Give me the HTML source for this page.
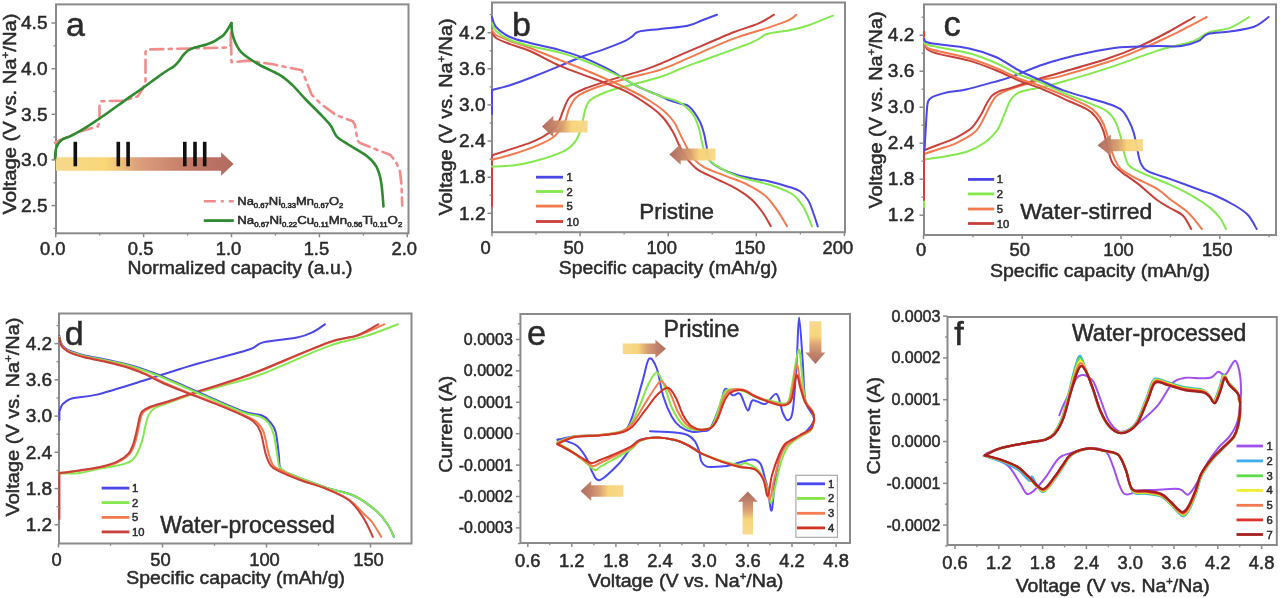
<!DOCTYPE html><html><head><meta charset="utf-8"><style>html,body{margin:0;padding:0;background:#fff;overflow:hidden}svg{display:block;filter:blur(0.7px)}text{font-family:"Liberation Sans", sans-serif;stroke:#2a2a2a;stroke-width:0.5px;paint-order:stroke}</style></head><body>
<svg width="1280" height="598" viewBox="0 0 1280 598">
<rect width="1280" height="598" fill="#fff"/>
<rect x="56" y="4.4" width="352.5" height="228.9" fill="none" stroke="#8a8a8a" stroke-width="2.0"/>
<linearGradient id="g1" gradientUnits="userSpaceOnUse" x1="56" y1="0" x2="233.6" y2="0"><stop offset="0" stop-color="#f6d98e"/><stop offset="0.28" stop-color="#f9d776"/><stop offset="0.36" stop-color="#eec27a"/><stop offset="0.46" stop-color="#dca07c"/><stop offset="0.75" stop-color="#c47a68"/><stop offset="1" stop-color="#b06a5e"/></linearGradient>
<path d="M56,157.2 L221.1,157.2 L221.1,152.3 L233.6,164 L221.1,175.7 L221.1,170.8 L56,170.8Z" fill="url(#g1)" fill-opacity="1"/>
<rect x="73.5" y="141.8" width="3.6" height="24.5" fill="#111"/>
<rect x="116.5" y="141.8" width="3.6" height="24.5" fill="#111"/>
<rect x="126.3" y="141.8" width="3.6" height="24.5" fill="#111"/>
<rect x="183" y="141.8" width="3.6" height="24.5" fill="#111"/>
<rect x="193.2" y="141.8" width="3.6" height="24.5" fill="#111"/>
<rect x="202.9" y="141.8" width="3.6" height="24.5" fill="#111"/>
<path d="M55,142.7 L60,140.2 L80.1,131.4 L97.7,126.4 L99.5,123 L99.5,102.6 L101,101.3 L124,100.7 L137.8,96.3 L142.8,88.8 L145.5,81 L145.5,52 L147,49.5 L228.5,47.5 L230.6,45 L231,30 L231.5,62.3 L248.5,60.6 L272.8,64.3 L301.9,70.3 L305,78 L311.6,94.6 L321.3,104.3 L336,115 L352.8,121.3 L355,125 L357.6,140.7 L360,143 L369.4,146.8 L390.5,155 L396,162 L399.8,170.2 L401.5,185 L402.2,205.4" fill="none" stroke="#f08c8c" stroke-width="2.6" stroke-linejoin="round" stroke-linecap="round" stroke-dasharray="13 5.5 3 5.5"/>
<path d="M55,159 C55.2,157.1 55.2,150.8 56.3,147.7 C57.3,144.6 58.6,142.3 61.3,140.2 C64,138.1 68.2,137.5 72.6,135.2 C77,132.9 82,130 87.6,126.4 C93.2,122.8 100.1,118.2 106.4,113.8 C112.7,109.4 120.1,103.8 125.3,100.1 C130.5,96.4 133.6,94.4 137.8,91.5 C142,88.6 146.7,85.1 150.3,82.5 C153.9,79.9 156.6,77.9 159.5,75.8 C162.4,73.7 165.5,71.6 168,70 C170.5,68.4 172.6,67.5 174.4,66 C176.2,64.5 177.6,62.8 179,61 C180.4,59.2 181.5,57.2 183,55.5 C184.5,53.8 186.1,51.8 188,50.5 C189.9,49.2 191.6,48.5 194.7,47.5 C197.8,46.5 203.2,45.4 206.4,44.4 C209.6,43.4 212.1,42.4 214,41.5 C215.9,40.6 216.5,40 218.1,38.9 C219.7,37.8 221.9,36.6 223.6,35 C225.2,33.4 226.7,31 228,29 C229.3,27 230.9,24 231.5,23" fill="none" stroke="#2f8a30" stroke-width="2.6" stroke-linejoin="round" stroke-linecap="round" />
<path d="M231.5,23 C231.6,24.2 231.5,27.5 231.8,30 C232.1,32.5 232.6,35.3 233.5,38 C234.4,40.7 235.7,43.6 237,46 C238.3,48.4 239,49.9 241.2,52.1 C243.4,54.3 246.8,56.8 250,59 C253.2,61.2 255.6,62.8 260.6,65.5 C265.6,68.2 274.7,72 280,75.2 C285.3,78.4 287.8,80.8 292.2,84.9 C296.6,89 301.5,95.2 306.2,100 C310.9,104.8 316.1,109.7 320.2,114 C324.3,118.3 328.1,122.1 330.8,125.8 C333.5,129.5 333.7,133.2 336.6,136.3 C339.5,139.4 343.2,141.2 348.3,144.5 C353.4,147.8 362.4,152.5 367.1,156.2 C371.8,159.9 374.1,162.4 376.4,166.7 C378.7,171 379.9,175.3 381.1,181.9 C382.3,188.5 383.1,202.4 383.5,206.5" fill="none" stroke="#2f8a30" stroke-width="2.6" stroke-linejoin="round" stroke-linecap="round" />
<line x1="51.5" y1="205.6" x2="56" y2="205.6" stroke="#8a8a8a" stroke-width="1.5"/>
<line x1="51.5" y1="159.9" x2="56" y2="159.9" stroke="#8a8a8a" stroke-width="1.5"/>
<line x1="51.5" y1="114.3" x2="56" y2="114.3" stroke="#8a8a8a" stroke-width="1.5"/>
<line x1="51.5" y1="68.7" x2="56" y2="68.7" stroke="#8a8a8a" stroke-width="1.5"/>
<line x1="51.5" y1="23" x2="56" y2="23" stroke="#8a8a8a" stroke-width="1.5"/>
<line x1="53.5" y1="228.4" x2="56" y2="228.4" stroke="#8a8a8a" stroke-width="1.3"/>
<line x1="53.5" y1="182.8" x2="56" y2="182.8" stroke="#8a8a8a" stroke-width="1.3"/>
<line x1="53.5" y1="137.1" x2="56" y2="137.1" stroke="#8a8a8a" stroke-width="1.3"/>
<line x1="53.5" y1="91.5" x2="56" y2="91.5" stroke="#8a8a8a" stroke-width="1.3"/>
<line x1="53.5" y1="45.8" x2="56" y2="45.8" stroke="#8a8a8a" stroke-width="1.3"/>
<line x1="55.7" y1="233.3" x2="55.7" y2="237.3" stroke="#8a8a8a" stroke-width="1.5"/>
<line x1="143.6" y1="233.3" x2="143.6" y2="237.3" stroke="#8a8a8a" stroke-width="1.5"/>
<line x1="231.5" y1="233.3" x2="231.5" y2="237.3" stroke="#8a8a8a" stroke-width="1.5"/>
<line x1="319.4" y1="233.3" x2="319.4" y2="237.3" stroke="#8a8a8a" stroke-width="1.5"/>
<line x1="407.3" y1="233.3" x2="407.3" y2="237.3" stroke="#8a8a8a" stroke-width="1.5"/>
<line x1="99.7" y1="233.3" x2="99.7" y2="235.6" stroke="#8a8a8a" stroke-width="1.3"/>
<line x1="187.6" y1="233.3" x2="187.6" y2="235.6" stroke="#8a8a8a" stroke-width="1.3"/>
<line x1="275.4" y1="233.3" x2="275.4" y2="235.6" stroke="#8a8a8a" stroke-width="1.3"/>
<line x1="363.4" y1="233.3" x2="363.4" y2="235.6" stroke="#8a8a8a" stroke-width="1.3"/>
<text x="47.5" y="211.8" font-size="18" text-anchor="end" fill="#2a2a2a" textLength="26.5" lengthAdjust="spacingAndGlyphs" >2.5</text>
<text x="47.5" y="166.1" font-size="18" text-anchor="end" fill="#2a2a2a" textLength="26.5" lengthAdjust="spacingAndGlyphs" >3.0</text>
<text x="47.5" y="120.5" font-size="18" text-anchor="end" fill="#2a2a2a" textLength="26.5" lengthAdjust="spacingAndGlyphs" >3.5</text>
<text x="47.5" y="74.9" font-size="18" text-anchor="end" fill="#2a2a2a" textLength="26.5" lengthAdjust="spacingAndGlyphs" >4.0</text>
<text x="47.5" y="29.2" font-size="18" text-anchor="end" fill="#2a2a2a" textLength="26.5" lengthAdjust="spacingAndGlyphs" >4.5</text>
<text x="52.7" y="254.7" font-size="18" text-anchor="middle" fill="#2a2a2a" textLength="25.5" lengthAdjust="spacingAndGlyphs" >0.0</text>
<text x="140.6" y="254.7" font-size="18" text-anchor="middle" fill="#2a2a2a" textLength="25.5" lengthAdjust="spacingAndGlyphs" >0.5</text>
<text x="228.5" y="254.7" font-size="18" text-anchor="middle" fill="#2a2a2a" textLength="25.5" lengthAdjust="spacingAndGlyphs" >1.0</text>
<text x="316.4" y="254.7" font-size="18" text-anchor="middle" fill="#2a2a2a" textLength="25.5" lengthAdjust="spacingAndGlyphs" >1.5</text>
<text x="404.3" y="254.7" font-size="18" text-anchor="middle" fill="#2a2a2a" textLength="25.5" lengthAdjust="spacingAndGlyphs" >2.0</text>
<text x="127.5" y="273.5" font-size="19.2" text-anchor="start" fill="#2a2a2a" textLength="225" lengthAdjust="spacingAndGlyphs" >Normalized capacity (a.u.)</text>
<text x="16" y="114" font-size="19.2" text-anchor="middle" fill="#2a2a2a" textLength="201" lengthAdjust="spacingAndGlyphs" transform="rotate(-90 16 114)">Voltage (V vs. Na<tspan font-size="11" dy="-7">+</tspan><tspan dy="7">/Na)</tspan></text>
<text x="66" y="35.6" font-size="34" text-anchor="start" fill="#2a2a2a" >a</text>
<line x1="203.8" y1="201.3" x2="233.8" y2="201.3" stroke="#f08c8c" stroke-width="2.6" stroke-dasharray="12 5 3 5"/>
<line x1="203.8" y1="220.6" x2="233.8" y2="220.6" stroke="#2f8a30" stroke-width="2.8"/>
<text x="237.3" y="204.8" font-size="11" text-anchor="start" fill="#2a2a2a" textLength="106" lengthAdjust="spacingAndGlyphs" >Na<tspan font-size="6.5" dy="3">0.67</tspan><tspan dy="-3">Ni</tspan><tspan font-size="6.5" dy="3">0.33</tspan><tspan dy="-3">Mn</tspan><tspan font-size="6.5" dy="3">0.67</tspan><tspan dy="-3">O</tspan><tspan font-size="6.5" dy="3">2</tspan><tspan dy="-3"></tspan></text>
<text x="237.3" y="224.2" font-size="11" text-anchor="start" fill="#2a2a2a" textLength="165" lengthAdjust="spacingAndGlyphs" >Na<tspan font-size="6.5" dy="3">0.67</tspan><tspan dy="-3">Ni</tspan><tspan font-size="6.5" dy="3">0.22</tspan><tspan dy="-3">Cu</tspan><tspan font-size="6.5" dy="3">0.11</tspan><tspan dy="-3">Mn</tspan><tspan font-size="6.5" dy="3">0.56</tspan><tspan dy="-3">Ti</tspan><tspan font-size="6.5" dy="3">0.11</tspan><tspan dy="-3">O</tspan><tspan font-size="6.5" dy="3">2</tspan><tspan dy="-3"></tspan></text>
<rect x="492" y="2.5" width="353" height="229.7" fill="none" stroke="#8a8a8a" stroke-width="2.0"/>
<path d="M492,206 L492,155.3 C495.4,154.2 505.4,151 512.6,148.6 C519.8,146.2 528.4,143.9 535.2,140.7 C542,137.5 549.1,133 553.2,129.4 C557.3,125.8 558.4,122.1 560,119 C561.6,115.9 561.3,114.7 563,111 C564.7,107.3 566.3,100.7 570,96.9 C573.7,93.2 578.4,91.3 585.1,88.5 C591.8,85.7 600.4,83.2 610.1,80.1 C619.9,77 635.3,72.8 643.6,70.1 C651.9,67.4 653.9,66.5 660,64 C666.1,61.5 673.9,57.8 680,55.1 C686.1,52.4 687.9,51.6 696.8,47.8 C705.7,44 723.5,36.2 733.6,32.2 C743.7,28.2 750.8,26.8 757.5,23.9 C764.2,21 771.2,16.2 774,14.7" fill="none" stroke="#c9403a" stroke-width="2.0" stroke-linejoin="round" stroke-linecap="round" />
<path d="M492,159.8 C495.4,158.9 505.4,156.4 512.6,154.2 C519.8,151.9 528.4,149.1 535.2,146.3 C542,143.5 548.3,141.2 553.2,137.3 C558.1,133.4 561.9,127.3 564.5,122.6 C567.1,117.9 567,113.3 569,109 C571,104.7 572.6,100.3 576.7,96.9 C580.8,93.5 585,91.6 593.4,88.5 C601.8,85.4 615.8,81.6 626.9,78.5 C638,75.4 651.1,72.7 660,69.9 C668.9,67.1 673.9,64.4 680,61.8 C686.1,59.2 687.9,58.2 696.8,54.3 C705.7,50.4 721.6,43 733.6,38.6 C745.6,34.2 759.4,30.7 768.6,27.6 C777.8,24.5 784.2,22.4 788.8,20.2 C793.4,18 795,15.6 796.2,14.7" fill="none" stroke="#f27a4e" stroke-width="2.0" stroke-linejoin="round" stroke-linecap="round" />
<path d="M492,166.6 C495.4,166.4 505.4,166.4 512.6,165.5 C519.8,164.6 526.6,163.4 535.2,161 C543.9,158.6 557.7,154.2 564.5,150.8 C571.3,147.4 573,144.7 575.8,140.7 C578.6,136.7 580,131.9 581.5,127 C583,122.1 583.4,115.8 584.8,111.3 C586.2,106.8 586.4,103.5 590.1,100.2 C593.8,97 600.7,94.2 606.8,91.8 C612.9,89.4 618,88.5 626.9,86 C635.8,83.5 651.1,79.8 660,77 C668.9,74.2 673.9,71.4 680,69 C686.1,66.6 684.8,67 696.8,62.6 C708.8,58.1 740.4,47.1 752,42.3 C763.6,37.5 760.6,36 766.7,34 C772.8,32 782,31.8 788.8,30.4 C795.5,29 799.8,28.3 807.2,25.8 C814.6,23.3 828.7,17.3 833,15.6" fill="none" stroke="#84e84e" stroke-width="2.0" stroke-linejoin="round" stroke-linecap="round" />
<path d="M492,114 L492,90 C493.3,89.7 497,88.8 500,88 C503,87.2 505,87 510,85.3 C515,83.6 521.7,81.2 530,78 C538.3,74.8 551.4,69.5 560,65.9 C568.6,62.4 574.7,59.3 581.7,56.7 C588.7,54.1 594.8,52.6 601.8,50.1 C608.8,47.6 618.5,43.9 623.5,41.7 C628.5,39.5 629.4,38.4 631.9,36.7 C634.4,35 633.9,33 638.6,31.7 C643.3,30.4 652.1,30 660.3,29 C668.5,28 680.6,27.3 687.6,25.8 C694.6,24.3 697.4,22.1 702.3,20.2 C707.2,18.3 714.5,15.6 717,14.7" fill="none" stroke="#4b46e6" stroke-width="2.0" stroke-linejoin="round" stroke-linecap="round" />
<path d="M492,32 C492.7,33 493,36 496,38 C499,40 504.3,41.9 510,44.1 C515.7,46.3 521.7,47.4 530,51 C538.3,54.6 549.4,61.3 560,65.9 C570.6,70.5 582.2,74.2 593.4,78.5 C604.5,82.8 617.3,87 626.9,91.8 C636.5,96.5 645,102.7 651,107 C657,111.3 659.3,113.3 663,117.5 C666.7,121.7 670.1,127 673,132 C675.9,137.1 678.1,143.4 680.4,147.8 C682.7,152.2 684.1,155.1 687,158.7 C689.9,162.3 693.1,166.3 697.8,169.6 C702.5,172.9 708.7,175.1 715.2,178.3 C721.7,181.6 730.8,185.5 737,189.1 C743.2,192.7 747.9,196 752.2,200 C756.5,204 759.9,208.7 763,213 C766.1,217.3 769.4,223.9 770.7,226.1" fill="none" stroke="#c9403a" stroke-width="2.0" stroke-linejoin="round" stroke-linecap="round" />
<path d="M492,30 C492.7,30.8 493,33.2 496,35 C499,36.8 504.3,38.8 510,41 C515.7,43.2 521.7,44.8 530,48 C538.3,51.2 549.4,55.9 560,60.1 C570.6,64.3 582.2,68.8 593.4,73.5 C604.5,78.2 617.5,83.9 626.9,88.5 C636.3,93.1 643.8,97.2 650,101 C656.2,104.8 660,107.5 664,111 C668,114.5 671.6,118.8 674,122 C676.4,125.2 676.1,126.1 678.3,130.4 C680.5,134.7 684.5,143.1 687,147.8 C689.5,152.5 690.6,155.4 693.5,158.7 C696.4,162 698.9,164.5 704.3,167.4 C709.7,170.3 718.9,173.2 726.1,176.1 C733.4,179 741.3,181.5 747.8,184.8 C754.3,188.1 760.5,191.7 765.2,195.7 C769.9,199.7 772.5,203.6 776.1,208.7 C779.7,213.8 785.2,223.2 787,226.1" fill="none" stroke="#f27a4e" stroke-width="2.0" stroke-linejoin="round" stroke-linecap="round" />
<path d="M492,17 C492.7,18.7 493,23.7 496,27 C499,30.3 504.3,34.3 510,37 C515.7,39.7 521.7,40.8 530,43 C538.3,45.2 550.8,47.5 560,50.1 C569.2,52.7 576.8,55.1 585.1,58.4 C593.5,61.7 603.7,66.8 610.1,70.1 C616.5,73.4 618.5,75.6 623.5,78.5 C628.5,81.4 634.1,84.8 640.2,87.7 C646.3,90.6 655.8,94 660.3,96 C664.8,98 664.1,98.2 667.4,99.5 C670.7,100.8 676.4,102.3 680,103.5 C683.6,104.7 685.8,103.5 689.1,106.5 C692.4,109.5 697.5,117 700,121.7 C702.5,126.4 703.2,130.8 704.3,134.8 C705.4,138.8 705.4,141.2 706.5,145.7 C707.6,150.2 705.8,157.1 710.9,162 C716,166.9 727.2,171.8 737,175 C746.8,178.2 760.9,179.5 769.6,181.5 C778.3,183.5 784,185.4 789.1,187 C794.2,188.6 796.9,189.1 800,191.3 C803.1,193.5 805.8,196.6 808,200 C810.2,203.4 811.4,207.6 813,212 C814.6,216.4 817,224 817.8,226.4" fill="none" stroke="#4b46e6" stroke-width="2.0" stroke-linejoin="round" stroke-linecap="round" />
<path d="M492,23 C492.7,24.3 493,28.2 496,31 C499,33.8 504.3,37.5 510,40 C515.7,42.5 521.7,43.9 530,46 C538.3,48.1 550.8,50.1 560,52.6 C569.2,55.1 576.6,57.8 585,61 C593.4,64.2 603.7,68.9 610.1,71.8 C616.5,74.7 618.5,75.8 623.5,78.5 C628.5,81.2 634.1,84.8 640.2,87.7 C646.3,90.6 654.5,93.9 660.3,96 C666.1,98.1 671.3,99.1 675,100.5 C678.7,101.9 679.5,101.8 682.6,104.3 C685.7,106.8 690.8,111.2 693.5,115.2 C696.2,119.2 697.4,123.6 698.9,128.3 C700.4,133 700.9,138.8 702.2,143.5 C703.5,148.2 704.3,152.9 706.5,156.5 C708.7,160.1 710.1,161.9 715.2,165.2 C720.3,168.5 727.9,172.8 737,176.1 C746.1,179.4 760.6,181.9 769.6,184.8 C778.6,187.7 786.2,190.6 791.3,193.5 C796.4,196.4 797.5,199.1 800,202.2 C802.5,205.3 804,208 806,212 C808,216 811,224 812,226.4" fill="none" stroke="#84e84e" stroke-width="2.0" stroke-linejoin="round" stroke-linecap="round" />
<linearGradient id="g2" gradientUnits="userSpaceOnUse" x1="587.6" y1="0" x2="542" y2="0"><stop offset="0" stop-color="#f7d888"/><stop offset="0.35" stop-color="#f8d274"/><stop offset="0.55" stop-color="#d89e6c"/><stop offset="0.8" stop-color="#bb7862"/><stop offset="1" stop-color="#a86656"/></linearGradient>
<path d="M587.6,120.5 L553.4,120.5 L553.4,115.7 L542,126.5 L553.4,137.3 L553.4,132.5 L587.6,132.5Z" fill="url(#g2)" fill-opacity="0.95"/>
<linearGradient id="g3" gradientUnits="userSpaceOnUse" x1="715.5" y1="0" x2="669.4" y2="0"><stop offset="0" stop-color="#f7d888"/><stop offset="0.35" stop-color="#f8d274"/><stop offset="0.55" stop-color="#d89e6c"/><stop offset="0.8" stop-color="#bb7862"/><stop offset="1" stop-color="#a86656"/></linearGradient>
<path d="M715.5,148.4 L680.7,148.4 L680.7,144 L669.4,154.4 L680.7,164.8 L680.7,160.4 L715.5,160.4Z" fill="url(#g3)" fill-opacity="0.95"/>
<line x1="487.5" y1="213.3" x2="492" y2="213.3" stroke="#8a8a8a" stroke-width="1.5"/>
<line x1="487.5" y1="177.2" x2="492" y2="177.2" stroke="#8a8a8a" stroke-width="1.5"/>
<line x1="487.5" y1="141.1" x2="492" y2="141.1" stroke="#8a8a8a" stroke-width="1.5"/>
<line x1="487.5" y1="104.9" x2="492" y2="104.9" stroke="#8a8a8a" stroke-width="1.5"/>
<line x1="487.5" y1="68.8" x2="492" y2="68.8" stroke="#8a8a8a" stroke-width="1.5"/>
<line x1="487.5" y1="32.7" x2="492" y2="32.7" stroke="#8a8a8a" stroke-width="1.5"/>
<line x1="489.5" y1="195.2" x2="492" y2="195.2" stroke="#8a8a8a" stroke-width="1.3"/>
<line x1="489.5" y1="159.1" x2="492" y2="159.1" stroke="#8a8a8a" stroke-width="1.3"/>
<line x1="489.5" y1="123" x2="492" y2="123" stroke="#8a8a8a" stroke-width="1.3"/>
<line x1="489.5" y1="86.9" x2="492" y2="86.9" stroke="#8a8a8a" stroke-width="1.3"/>
<line x1="489.5" y1="50.8" x2="492" y2="50.8" stroke="#8a8a8a" stroke-width="1.3"/>
<line x1="489.5" y1="14.6" x2="492" y2="14.6" stroke="#8a8a8a" stroke-width="1.3"/>
<line x1="492" y1="232.2" x2="492" y2="236.2" stroke="#8a8a8a" stroke-width="1.5"/>
<line x1="580.1" y1="232.2" x2="580.1" y2="236.2" stroke="#8a8a8a" stroke-width="1.5"/>
<line x1="668.2" y1="232.2" x2="668.2" y2="236.2" stroke="#8a8a8a" stroke-width="1.5"/>
<line x1="756.3" y1="232.2" x2="756.3" y2="236.2" stroke="#8a8a8a" stroke-width="1.5"/>
<line x1="844.4" y1="232.2" x2="844.4" y2="236.2" stroke="#8a8a8a" stroke-width="1.5"/>
<line x1="536" y1="232.2" x2="536" y2="234.5" stroke="#8a8a8a" stroke-width="1.3"/>
<line x1="624.1" y1="232.2" x2="624.1" y2="234.5" stroke="#8a8a8a" stroke-width="1.3"/>
<line x1="712.2" y1="232.2" x2="712.2" y2="234.5" stroke="#8a8a8a" stroke-width="1.3"/>
<line x1="800.4" y1="232.2" x2="800.4" y2="234.5" stroke="#8a8a8a" stroke-width="1.3"/>
<text x="485.5" y="219.5" font-size="18" text-anchor="end" fill="#2a2a2a" textLength="26.5" lengthAdjust="spacingAndGlyphs" >1.2</text>
<text x="485.5" y="183.4" font-size="18" text-anchor="end" fill="#2a2a2a" textLength="26.5" lengthAdjust="spacingAndGlyphs" >1.8</text>
<text x="485.5" y="147.3" font-size="18" text-anchor="end" fill="#2a2a2a" textLength="26.5" lengthAdjust="spacingAndGlyphs" >2.4</text>
<text x="485.5" y="111.1" font-size="18" text-anchor="end" fill="#2a2a2a" textLength="26.5" lengthAdjust="spacingAndGlyphs" >3.0</text>
<text x="485.5" y="75" font-size="18" text-anchor="end" fill="#2a2a2a" textLength="26.5" lengthAdjust="spacingAndGlyphs" >3.6</text>
<text x="485.5" y="38.9" font-size="18" text-anchor="end" fill="#2a2a2a" textLength="26.5" lengthAdjust="spacingAndGlyphs" >4.2</text>
<text x="485.5" y="254.3" font-size="18" text-anchor="middle" fill="#2a2a2a" textLength="10.2" lengthAdjust="spacingAndGlyphs" >0</text>
<text x="573.6" y="254.3" font-size="18" text-anchor="middle" fill="#2a2a2a" textLength="20.4" lengthAdjust="spacingAndGlyphs" >50</text>
<text x="661.7" y="254.3" font-size="18" text-anchor="middle" fill="#2a2a2a" textLength="30.6" lengthAdjust="spacingAndGlyphs" >100</text>
<text x="749.8" y="254.3" font-size="18" text-anchor="middle" fill="#2a2a2a" textLength="30.6" lengthAdjust="spacingAndGlyphs" >150</text>
<text x="837.9" y="254.3" font-size="18" text-anchor="middle" fill="#2a2a2a" textLength="30.6" lengthAdjust="spacingAndGlyphs" >200</text>
<text x="558.8" y="273.5" font-size="19.2" text-anchor="start" fill="#2a2a2a" textLength="218.7" lengthAdjust="spacingAndGlyphs" >Specific capacity (mAh/g)</text>
<text x="452" y="117" font-size="19.2" text-anchor="middle" fill="#2a2a2a" textLength="197" lengthAdjust="spacingAndGlyphs" transform="rotate(-90 452 117)">Voltage (V vs. Na<tspan font-size="11" dy="-7">+</tspan><tspan dy="7">/Na)</tspan></text>
<text x="511.9" y="35.5" font-size="34" text-anchor="start" fill="#2a2a2a" >b</text>
<text x="639.3" y="218.9" font-size="22.5" text-anchor="start" fill="#2a2a2a" textLength="74.8" lengthAdjust="spacingAndGlyphs" >Pristine</text>
<line x1="536" y1="177.2" x2="563" y2="177.2" stroke="#4b46e6" stroke-width="2.8"/>
<text x="566.5" y="181.2" font-size="11.2" text-anchor="start" fill="#2a2a2a" >1</text>
<line x1="536" y1="191.5" x2="563" y2="191.5" stroke="#84e84e" stroke-width="2.8"/>
<text x="566.5" y="195.5" font-size="11.2" text-anchor="start" fill="#2a2a2a" >2</text>
<line x1="536" y1="206.1" x2="563" y2="206.1" stroke="#f27a4e" stroke-width="2.8"/>
<text x="566.5" y="210.1" font-size="11.2" text-anchor="start" fill="#2a2a2a" >5</text>
<line x1="536" y1="221.5" x2="563" y2="221.5" stroke="#c9403a" stroke-width="2.8"/>
<text x="566.5" y="225.5" font-size="11.2" text-anchor="start" fill="#2a2a2a" >10</text>
<rect x="924" y="4.4" width="352" height="230.6" fill="none" stroke="#8a8a8a" stroke-width="2.0"/>
<path d="M924,207 L924,159.4 C926.4,159.1 931.4,158.8 938.4,157.6 C945.4,156.4 958.3,154.5 966,152 C973.7,149.5 979.2,146.5 984.4,142.8 C989.6,139.1 993.9,134.9 997.3,130 C1000.7,125.1 1002.6,118.3 1004.7,113.4 C1006.9,108.5 1008.1,103.9 1010.2,100.5 C1012.4,97.1 1014.2,94.9 1017.6,93.1 C1021,91.2 1026.7,90.3 1030.4,89.4 C1034.1,88.5 1035.1,88.8 1040,87.6 C1044.9,86.4 1048.6,85.8 1060,82.5 C1071.4,79.2 1092.3,73.2 1108.5,67.9 C1124.7,62.6 1142.8,55.4 1157,50.9 C1171.2,46.4 1184.9,44.2 1193.4,41.2 C1201.9,38.2 1201.9,34.9 1208,32.7 C1214.1,30.5 1222.9,30.5 1229.8,27.9 C1236.7,25.3 1246,18.8 1249.2,17" fill="none" stroke="#84e84e" stroke-width="2.0" stroke-linejoin="round" stroke-linecap="round" />
<path d="M924,153.9 C926.4,153.1 932.9,151.2 938.4,149.3 C943.9,147.5 950.7,145.7 956.8,142.8 C962.9,139.9 970.6,136.1 975.2,131.8 C979.8,127.5 982,121.4 984.4,117.1 C986.8,112.8 988,109.4 989.9,106 C991.8,102.6 993.4,99.1 995.5,96.8 C997.6,94.5 1000,93.6 1002.8,92.2 C1005.5,90.8 1005.8,90.5 1012,88.5 C1018.2,86.5 1032,82.2 1040,80.2 C1048,78.2 1048.6,79.5 1060,76.4 C1071.4,73.3 1095.2,66.2 1108.5,61.8 C1121.8,57.3 1129.9,53.9 1140,49.7 C1150.1,45.5 1161,40.2 1169.1,36.4 C1177.2,32.6 1182.2,29.9 1188.5,26.7 C1194.8,23.5 1203.7,18.6 1206.7,17" fill="none" stroke="#f27a4e" stroke-width="2.0" stroke-linejoin="round" stroke-linecap="round" />
<path d="M924,200 L924,150.2 C926.4,149.3 932.9,146.8 938.4,144.7 C943.9,142.5 951.3,140.1 956.8,137.3 C962.3,134.5 967.5,131.8 971.5,128.1 C975.5,124.4 978.2,119.2 980.7,115.2 C983.2,111.2 984.4,107.4 986.3,104.2 C988.1,101 989.7,98.1 991.8,95.9 C993.9,93.8 995.7,92.7 999.1,91.3 C1002.5,89.9 1005.2,89.8 1012,87.6 C1018.8,85.4 1032,80.9 1040,78.4 C1048,75.9 1048.6,76.2 1060,72.8 C1071.4,69.4 1095.2,62.7 1108.5,58.2 C1121.8,53.8 1129.9,50.6 1140,46.1 C1150.1,41.6 1160,36.4 1169.1,31.5 C1178.2,26.6 1190.3,19.4 1194.6,17" fill="none" stroke="#c9403a" stroke-width="2.0" stroke-linejoin="round" stroke-linecap="round" />
<path d="M924.5,150.2 C924.8,145.9 925.5,132.1 926,124.4 C926.5,116.7 926.8,108.3 927.5,104 C928.2,99.7 928.8,100 930,98.7 C931.2,97.4 932.1,97 935,95.9 C937.9,94.8 942.4,93.3 947.6,92.2 C952.8,91.1 958.3,91.1 966,89.4 C973.7,87.7 985.9,84.2 993.6,82.1 C1001.3,80 1004.3,79.4 1012,76.6 C1019.7,73.8 1032,68.4 1040,65.5 C1048,62.6 1052.6,61.4 1060,59.4 C1067.4,57.4 1074.2,55.4 1084.3,53.4 C1094.4,51.4 1108.5,48.5 1120.6,47.3 C1132.7,46.1 1146.9,46.3 1157,46.1 C1167.1,45.9 1174.4,46.9 1181.3,46.1 C1188.2,45.3 1193.8,43.2 1198.2,41.2 C1202.7,39.2 1202.7,35.6 1208,34 C1213.3,32.4 1222.1,32.7 1229.8,31.5 C1237.5,30.3 1247.5,29.1 1254,26.7 C1260.5,24.3 1266.2,18.6 1268.6,17" fill="none" stroke="#4b46e6" stroke-width="2.0" stroke-linejoin="round" stroke-linecap="round" />
<path d="M924.3,32 C924.3,34 923.1,40.6 924.5,44 C925.9,47.4 925.3,49.3 932.7,52.1 C940.1,54.9 958.6,57.6 969.1,60.6 C979.6,63.6 987.3,66.9 995.8,70.3 C1004.3,73.7 1012.6,78 1020,81 C1027.4,84 1032.8,85.2 1040,88.1 C1047.2,91 1055.6,95.1 1063.4,98.6 C1071.2,102.1 1081.3,106.1 1086.8,109.2 C1092.3,112.3 1093.5,113.9 1096.2,117.4 C1098.9,120.9 1101.2,125 1103.2,130.3 C1105.2,135.6 1106.3,143.6 1107.9,149 C1109.5,154.4 1110.2,159.1 1112.6,163 C1114.9,166.9 1117.7,168.9 1122,172.4 C1126.3,175.9 1132.6,179.5 1138.4,184.1 C1144.2,188.7 1151.8,196 1157.1,200 C1162.4,204 1165.7,205.4 1170,208 C1174.3,210.6 1179.6,212.2 1183.1,215.7 C1186.6,219.2 1189.8,226.8 1191.2,229" fill="none" stroke="#c9403a" stroke-width="2.0" stroke-linejoin="round" stroke-linecap="round" />
<path d="M924.3,38 C924.4,39.2 923.6,43 925,45 C926.4,47 925.4,47.5 932.7,49.7 C940.1,51.9 958.6,55.2 969.1,58.2 C979.6,61.2 987.3,64.4 995.8,67.9 C1004.3,71.4 1012.6,76 1020,79 C1027.4,82 1032.8,83.1 1040,85.8 C1047.2,88.5 1055.6,91.8 1063.4,95.1 C1071.2,98.4 1081.3,102.8 1086.8,105.7 C1092.3,108.6 1093.5,109.8 1096.2,112.7 C1098.9,115.6 1101.2,119.1 1103.2,123.2 C1105.2,127.3 1106.3,132.2 1107.9,137.3 C1109.5,142.4 1110.6,148.6 1112.6,153.7 C1114.5,158.8 1116.1,163.8 1119.6,167.7 C1123.1,171.6 1127.5,173.6 1133.7,177.1 C1140,180.6 1150.9,185 1157.1,188.8 C1163.3,192.6 1165.9,196 1171.1,200 C1176.3,204 1183.4,208.2 1188.5,213 C1193.6,217.8 1199.7,226.3 1201.9,229" fill="none" stroke="#f27a4e" stroke-width="2.0" stroke-linejoin="round" stroke-linecap="round" />
<path d="M924.3,40 C924.4,40.6 923.6,42.6 925,43.6 C926.4,44.6 925.4,44.5 932.7,46.1 C940.1,47.7 958.6,50.5 969.1,53.3 C979.6,56.1 987.3,59.4 995.8,63 C1004.3,66.6 1012.6,71.8 1020,75 C1027.4,78.2 1032.8,79.2 1040,82.2 C1047.2,85.2 1055.6,89.5 1063.4,92.8 C1071.2,96.1 1079.8,99.3 1086.8,102.2 C1093.8,105.1 1100.9,107.3 1105.6,110.4 C1110.3,113.5 1112.5,116.4 1115,120.9 C1117.5,125.4 1119.2,131.8 1120.8,137.3 C1122.3,142.8 1122.9,149 1124.3,153.7 C1125.7,158.4 1126.3,162.3 1129,165.4 C1131.7,168.5 1134.1,169.3 1140.7,172.4 C1147.3,175.5 1160.2,180.2 1168.8,184.1 C1177.4,188 1185.3,191.9 1192.2,195.8 C1199.1,199.7 1205.3,203.9 1209.9,207.6 C1214.5,211.3 1217.3,214.4 1220,218 C1222.7,221.6 1225,227.2 1226,229" fill="none" stroke="#84e84e" stroke-width="2.0" stroke-linejoin="round" stroke-linecap="round" />
<path d="M924.3,39 C924.4,39.4 923.6,40.4 925,41.2 C926.4,42 925.4,42.4 932.7,43.6 C940.1,44.8 958.6,46.3 969.1,48.5 C979.6,50.7 987.3,53.2 995.8,57 C1004.3,60.8 1012.6,67.2 1020,71 C1027.4,74.8 1032.8,76.7 1040,79.9 C1047.2,83.1 1055.6,87.5 1063.4,90.4 C1071.2,93.3 1079,95.2 1086.8,97.5 C1094.6,99.8 1104.4,102.3 1110.3,104.5 C1116.2,106.7 1118.9,107.7 1122,110.4 C1125.1,113.1 1127,117.2 1129,120.9 C1131,124.6 1132.3,127.9 1133.7,132.6 C1135.1,137.3 1136,143.9 1137.2,149 C1138.4,154.1 1139,159.3 1140.7,163 C1142.5,166.7 1142.6,168.5 1147.7,171.2 C1152.8,173.9 1162.4,176.3 1171.1,179.4 C1179.8,182.5 1192.7,187.3 1200,190 C1207.3,192.7 1209.5,193 1215.2,195.5 C1220.9,198 1228.5,201.8 1234,205 C1239.5,208.2 1244.2,211 1248,215 C1251.8,219 1255.2,226.7 1256.7,229" fill="none" stroke="#4b46e6" stroke-width="2.0" stroke-linejoin="round" stroke-linecap="round" />
<linearGradient id="g4" gradientUnits="userSpaceOnUse" x1="1143" y1="0" x2="1097.5" y2="0"><stop offset="0" stop-color="#f7d888"/><stop offset="0.35" stop-color="#f8d274"/><stop offset="0.55" stop-color="#d89e6c"/><stop offset="0.8" stop-color="#bb7862"/><stop offset="1" stop-color="#a86656"/></linearGradient>
<path d="M1143,139.3 L1110.9,139.3 L1110.9,134.6 L1097.5,145.3 L1110.9,156 L1110.9,151.3 L1143,151.3Z" fill="url(#g4)" fill-opacity="0.95"/>
<line x1="919.5" y1="215.2" x2="924" y2="215.2" stroke="#8a8a8a" stroke-width="1.5"/>
<line x1="919.5" y1="179.2" x2="924" y2="179.2" stroke="#8a8a8a" stroke-width="1.5"/>
<line x1="919.5" y1="143.2" x2="924" y2="143.2" stroke="#8a8a8a" stroke-width="1.5"/>
<line x1="919.5" y1="107.2" x2="924" y2="107.2" stroke="#8a8a8a" stroke-width="1.5"/>
<line x1="919.5" y1="71.2" x2="924" y2="71.2" stroke="#8a8a8a" stroke-width="1.5"/>
<line x1="919.5" y1="35.2" x2="924" y2="35.2" stroke="#8a8a8a" stroke-width="1.5"/>
<line x1="921.5" y1="197.2" x2="924" y2="197.2" stroke="#8a8a8a" stroke-width="1.3"/>
<line x1="921.5" y1="161.2" x2="924" y2="161.2" stroke="#8a8a8a" stroke-width="1.3"/>
<line x1="921.5" y1="125.2" x2="924" y2="125.2" stroke="#8a8a8a" stroke-width="1.3"/>
<line x1="921.5" y1="89.2" x2="924" y2="89.2" stroke="#8a8a8a" stroke-width="1.3"/>
<line x1="921.5" y1="53.2" x2="924" y2="53.2" stroke="#8a8a8a" stroke-width="1.3"/>
<line x1="921.5" y1="17.2" x2="924" y2="17.2" stroke="#8a8a8a" stroke-width="1.3"/>
<line x1="923.5" y1="235" x2="923.5" y2="239" stroke="#8a8a8a" stroke-width="1.5"/>
<line x1="1022.2" y1="235" x2="1022.2" y2="239" stroke="#8a8a8a" stroke-width="1.5"/>
<line x1="1121" y1="235" x2="1121" y2="239" stroke="#8a8a8a" stroke-width="1.5"/>
<line x1="1219.8" y1="235" x2="1219.8" y2="239" stroke="#8a8a8a" stroke-width="1.5"/>
<line x1="972.9" y1="235" x2="972.9" y2="237.3" stroke="#8a8a8a" stroke-width="1.3"/>
<line x1="1071.6" y1="235" x2="1071.6" y2="237.3" stroke="#8a8a8a" stroke-width="1.3"/>
<line x1="1170.4" y1="235" x2="1170.4" y2="237.3" stroke="#8a8a8a" stroke-width="1.3"/>
<line x1="1269.1" y1="235" x2="1269.1" y2="237.3" stroke="#8a8a8a" stroke-width="1.3"/>
<text x="914.3" y="221.4" font-size="18" text-anchor="end" fill="#2a2a2a" textLength="26.5" lengthAdjust="spacingAndGlyphs" >1.2</text>
<text x="914.3" y="185.4" font-size="18" text-anchor="end" fill="#2a2a2a" textLength="26.5" lengthAdjust="spacingAndGlyphs" >1.8</text>
<text x="914.3" y="149.4" font-size="18" text-anchor="end" fill="#2a2a2a" textLength="26.5" lengthAdjust="spacingAndGlyphs" >2.4</text>
<text x="914.3" y="113.4" font-size="18" text-anchor="end" fill="#2a2a2a" textLength="26.5" lengthAdjust="spacingAndGlyphs" >3.0</text>
<text x="914.3" y="77.4" font-size="18" text-anchor="end" fill="#2a2a2a" textLength="26.5" lengthAdjust="spacingAndGlyphs" >3.6</text>
<text x="914.3" y="41.4" font-size="18" text-anchor="end" fill="#2a2a2a" textLength="26.5" lengthAdjust="spacingAndGlyphs" >4.2</text>
<text x="921" y="256.3" font-size="18" text-anchor="middle" fill="#2a2a2a" textLength="10.2" lengthAdjust="spacingAndGlyphs" >0</text>
<text x="1019.8" y="256.3" font-size="18" text-anchor="middle" fill="#2a2a2a" textLength="20.4" lengthAdjust="spacingAndGlyphs" >50</text>
<text x="1118.5" y="256.3" font-size="18" text-anchor="middle" fill="#2a2a2a" textLength="30.6" lengthAdjust="spacingAndGlyphs" >100</text>
<text x="1217.2" y="256.3" font-size="18" text-anchor="middle" fill="#2a2a2a" textLength="30.6" lengthAdjust="spacingAndGlyphs" >150</text>
<text x="990" y="277" font-size="19.2" text-anchor="start" fill="#2a2a2a" textLength="220" lengthAdjust="spacingAndGlyphs" >Specific capacity (mAh/g)</text>
<text x="881.5" y="110" font-size="19.2" text-anchor="middle" fill="#2a2a2a" textLength="197" lengthAdjust="spacingAndGlyphs" transform="rotate(-90 881.5 110)">Voltage (V vs. Na<tspan font-size="11" dy="-7">+</tspan><tspan dy="7">/Na)</tspan></text>
<text x="943.4" y="35.9" font-size="34.5" text-anchor="start" fill="#2a2a2a" >c</text>
<text x="1020.2" y="219" font-size="22.5" text-anchor="start" fill="#2a2a2a" textLength="132.2" lengthAdjust="spacingAndGlyphs" >Water-stirred</text>
<line x1="968" y1="179.4" x2="994.2" y2="179.4" stroke="#4b46e6" stroke-width="2.8"/>
<text x="996.7" y="183.4" font-size="11.2" text-anchor="start" fill="#2a2a2a" >1</text>
<line x1="968" y1="193.9" x2="994.2" y2="193.9" stroke="#84e84e" stroke-width="2.8"/>
<text x="996.7" y="197.9" font-size="11.2" text-anchor="start" fill="#2a2a2a" >2</text>
<line x1="968" y1="209" x2="994.2" y2="209" stroke="#f27a4e" stroke-width="2.8"/>
<text x="996.7" y="213" font-size="11.2" text-anchor="start" fill="#2a2a2a" >5</text>
<line x1="968" y1="223.5" x2="994.2" y2="223.5" stroke="#c9403a" stroke-width="2.8"/>
<text x="996.7" y="227.5" font-size="11.2" text-anchor="start" fill="#2a2a2a" >10</text>
<rect x="59" y="313.5" width="352.5" height="230" fill="none" stroke="#8a8a8a" stroke-width="2.0"/>
<path d="M59.4,473.5 C62.7,473.4 72.4,473.8 79.2,473 C86,472.2 92.3,470.2 100,468.6 C107.7,467 119.2,465.6 125.1,463.6 C130.9,461.7 132.3,460.5 135.1,456.9 C137.9,453.3 140.1,446.9 141.8,441.9 C143.5,436.9 144.1,431.3 145.2,426.8 C146.3,422.3 146.8,418.3 148.5,415.1 C150.2,411.9 152.1,409.6 155.2,407.6 C158.3,405.7 160.8,405.6 166.9,403.4 C173,401.2 182.3,397.3 192,394.2 C201.7,391.1 213.6,388.3 225,385 C236.4,381.7 243.4,381 260.6,374.5 C277.9,368 311.1,352.5 328.5,346.1 C345.9,339.8 353.4,340 364.9,336.4 C376.4,332.8 392.2,326.3 397.7,324.3" fill="none" stroke="#84e84e" stroke-width="2.0" stroke-linejoin="round" stroke-linecap="round" />
<path d="M59.4,473 C62.7,472.6 72.4,471.7 79.2,470.8 C86,469.9 93.7,468.9 100,467.5 C106.3,466.1 112.2,464.7 117,462.5 C121.8,460.3 126.1,457.5 129,454.5 C131.9,451.5 133,448.4 134.5,444.5 C136,440.6 137,435.2 138,431 C139,426.8 139.6,422.2 140.5,419 C141.4,415.8 141.6,414 143.5,412 C145.4,410 147.9,408.7 152,407 C156.1,405.3 161.3,404.2 168,402 C174.7,399.8 181,397.4 192,393.8 C203,390.2 222.6,384.3 234,380.5 C245.4,376.7 244.9,377.1 260.6,370.8 C276.4,364.5 312.3,348.7 328.5,342.8 C344.7,336.9 348.4,338.7 357.7,335.6 C367,332.5 379.9,326.2 384.3,324.3" fill="none" stroke="#f27a4e" stroke-width="2.0" stroke-linejoin="round" stroke-linecap="round" />
<path d="M59.4,519 L59.4,473 C62.7,472.6 72.4,471.4 79.2,470.4 C86,469.4 93.8,468.4 100,467 C106.2,465.6 112,464.1 116.7,461.9 C121.4,459.7 125.6,456.7 128.4,453.6 C131.2,450.5 132,447.4 133.4,443.5 C134.8,439.6 135.8,434.4 136.8,430.2 C137.8,426 138.5,421.6 139.3,418.5 C140.1,415.4 140,413.8 141.8,411.8 C143.6,409.9 146,408.5 150.2,406.8 C154.4,405.1 159.9,403.9 166.9,401.7 C173.9,399.5 180.8,397 192,393.4 C203.2,389.8 222.4,383.9 233.8,380 C245.2,376.1 244.8,376.6 260.6,370.3 C276.4,364 312.3,348.2 328.5,342.4 C344.7,336.5 349.4,338.2 357.7,335.2 C366,332.2 374.9,326.1 378.3,324.3" fill="none" stroke="#c9403a" stroke-width="2.0" stroke-linejoin="round" stroke-linecap="round" />
<path d="M59.4,420 L59.4,411.5 C59.8,410.4 61,406.6 62,405 C63,403.4 63.7,402.9 65.5,401.8 C67.3,400.7 67.5,399.4 72.7,398.2 C78,397 84.9,397.6 97,394.6 C109.1,391.6 131.7,384.3 145.5,380 C159.3,375.7 170.9,371.8 180,369 C189.1,366.2 188.6,366.2 200,363 C211.4,359.8 238,353.1 248.5,349.7 C259,346.3 255,344.4 263.1,342.4 C271.2,340.4 288.5,339.4 297,337.6 C305.5,335.8 309.4,333.7 314,331.5 C318.6,329.3 323.1,325.5 324.9,324.3" fill="none" stroke="#4b46e6" stroke-width="2.0" stroke-linejoin="round" stroke-linecap="round" />
<path d="M59.4,336 C59.7,337.2 60.1,341 61,343 C61.9,345 63.2,346.6 65,348 C66.8,349.4 68.4,350.2 71.7,351.5 C75,352.8 79.4,354.2 85,355.5 C90.6,356.8 97.7,357.9 105.2,359.5 C112.8,361.1 122,362.9 130.3,365.2 C138.6,367.5 147.6,370.7 155,373.5 C162.4,376.3 167.5,378.8 175,382 C182.5,385.2 188.8,388.2 200,393 C211.2,397.8 231.7,407.2 242,411 C252.3,414.8 257.3,413.7 262,415.5 C266.7,417.3 267.7,419.3 270,422 C272.3,424.7 274.1,426.2 275.6,431.8 C277.1,437.4 278.1,449.2 278.9,455.3 C279.7,461.4 278.4,465.3 280.6,468.6 C282.8,471.9 284.4,471.8 292,475 C299.6,478.2 316,484.1 326.4,487.6 C336.8,491.1 346.1,492 354.5,496 C362.9,500 371.4,506.7 377,511.5 C382.6,516.3 385.2,520.8 388,525 C390.8,529.2 392.9,534.8 393.9,536.8" fill="none" stroke="#4b46e6" stroke-width="2.0" stroke-linejoin="round" stroke-linecap="round" />
<path d="M59.4,337 C59.7,338.2 60.1,342 61,344 C61.9,346 63.2,347.6 65,349 C66.8,350.4 68.4,351.1 71.7,352.3 C75,353.5 79.4,355 85,356.3 C90.6,357.6 97.7,358.7 105.2,360.3 C112.8,361.9 122,363.6 130.3,366 C138.6,368.4 147.6,371.7 155,374.5 C162.4,377.3 167.5,379.8 175,383 C182.5,386.2 188.8,389.2 200,394 C211.2,398.8 231.9,408.2 242,412 C252.1,415.8 256,414.9 260.5,416.8 C265,418.7 266.7,420.4 268.9,423.5 C271.1,426.6 272.5,429.9 273.9,435.2 C275.3,440.5 276.3,450 277.3,455.3 C278.3,460.6 277.7,463.9 279.8,467 C281.9,470.1 282.2,470.6 290,474 C297.8,477.4 315.6,483.9 326.4,487.6 C337.1,491.3 346.1,492 354.5,496 C362.9,500 371.4,506.7 377,511.5 C382.6,516.3 385.2,520.8 388,525 C390.8,529.2 392.9,534.8 393.9,536.8" fill="none" stroke="#84e84e" stroke-width="2.0" stroke-linejoin="round" stroke-linecap="round" />
<path d="M59.4,337.5 C59.7,338.7 60.1,342.5 61,344.5 C61.9,346.5 63.2,347.9 65,349.3 C66.8,350.7 68.4,351.7 71.7,353 C75,354.3 79.4,355.6 85,357 C90.6,358.4 97.7,359.4 105.2,361.2 C112.8,362.9 123.3,365.3 130.3,367.5 C137.3,369.7 141.4,372 147,374.5 C152.6,377 156.7,379.4 163.7,382.5 C170.7,385.6 180.2,389.6 188.8,393 C197.4,396.4 206.1,399.4 215,403 C223.9,406.6 235.3,411.4 242.1,414.5 C248.9,417.6 252.4,418.6 256,421.5 C259.6,424.4 261.4,426.4 263.5,431.8 C265.6,437.2 267,448.1 268.6,453.6 C270.2,459.1 271.1,462.3 273,465 C274.9,467.7 275.5,467.6 280,470 C284.5,472.4 292.3,476.4 300,479.5 C307.7,482.6 318.2,485.3 326.4,488.6 C334.5,491.9 342.8,495.4 348.9,499.5 C355,503.6 359.1,509.2 363,513 C366.9,516.8 369,518 372,522 C375,526 379.7,534.3 381.2,536.8" fill="none" stroke="#f27a4e" stroke-width="2.0" stroke-linejoin="round" stroke-linecap="round" />
<path d="M59.4,338 C59.7,339.2 60.1,343.1 61,345 C61.9,346.9 63.2,348.1 65,349.5 C66.8,350.9 68.4,352.1 71.7,353.4 C75,354.7 79.4,356.1 85,357.5 C90.6,358.9 97.7,360 105.2,361.8 C112.8,363.6 123.3,366.3 130.3,368.5 C137.3,370.7 141.4,372.7 147,375.2 C152.6,377.7 156.7,380.4 163.7,383.5 C170.7,386.6 180.2,390.2 188.8,393.6 C197.4,397 206.1,400 215,403.6 C223.9,407.2 235.6,412.1 242.1,415.1 C248.6,418.1 250.7,419 253.8,421.8 C256.9,424.6 258.5,426.5 260.5,431.8 C262.5,437.1 263.9,448 265.6,453.6 C267.3,459.2 268.7,462.5 270.6,465.3 C272.6,468.1 272.4,467.9 277.3,470.3 C282.2,472.8 291.8,476.9 300,480 C308.2,483.1 318.2,485.6 326.4,489 C334.5,492.4 342.8,495.5 348.9,500.2 C355,504.9 359,511 363,517.1 C367,523.2 371.2,533.5 372.8,536.8" fill="none" stroke="#c9403a" stroke-width="2.0" stroke-linejoin="round" stroke-linecap="round" />
<line x1="54.5" y1="524.8" x2="59" y2="524.8" stroke="#8a8a8a" stroke-width="1.5"/>
<line x1="54.5" y1="488.6" x2="59" y2="488.6" stroke="#8a8a8a" stroke-width="1.5"/>
<line x1="54.5" y1="452.3" x2="59" y2="452.3" stroke="#8a8a8a" stroke-width="1.5"/>
<line x1="54.5" y1="416.1" x2="59" y2="416.1" stroke="#8a8a8a" stroke-width="1.5"/>
<line x1="54.5" y1="379.8" x2="59" y2="379.8" stroke="#8a8a8a" stroke-width="1.5"/>
<line x1="54.5" y1="343.6" x2="59" y2="343.6" stroke="#8a8a8a" stroke-width="1.5"/>
<line x1="56.5" y1="506.7" x2="59" y2="506.7" stroke="#8a8a8a" stroke-width="1.3"/>
<line x1="56.5" y1="470.4" x2="59" y2="470.4" stroke="#8a8a8a" stroke-width="1.3"/>
<line x1="56.5" y1="434.2" x2="59" y2="434.2" stroke="#8a8a8a" stroke-width="1.3"/>
<line x1="56.5" y1="398" x2="59" y2="398" stroke="#8a8a8a" stroke-width="1.3"/>
<line x1="56.5" y1="361.7" x2="59" y2="361.7" stroke="#8a8a8a" stroke-width="1.3"/>
<line x1="56.5" y1="325.5" x2="59" y2="325.5" stroke="#8a8a8a" stroke-width="1.3"/>
<line x1="58.5" y1="543.5" x2="58.5" y2="547.5" stroke="#8a8a8a" stroke-width="1.5"/>
<line x1="162.5" y1="543.5" x2="162.5" y2="547.5" stroke="#8a8a8a" stroke-width="1.5"/>
<line x1="266.5" y1="543.5" x2="266.5" y2="547.5" stroke="#8a8a8a" stroke-width="1.5"/>
<line x1="370.5" y1="543.5" x2="370.5" y2="547.5" stroke="#8a8a8a" stroke-width="1.5"/>
<line x1="110.5" y1="543.5" x2="110.5" y2="545.8" stroke="#8a8a8a" stroke-width="1.3"/>
<line x1="214.5" y1="543.5" x2="214.5" y2="545.8" stroke="#8a8a8a" stroke-width="1.3"/>
<line x1="318.5" y1="543.5" x2="318.5" y2="545.8" stroke="#8a8a8a" stroke-width="1.3"/>
<text x="52.2" y="531" font-size="18" text-anchor="end" fill="#2a2a2a" textLength="26.5" lengthAdjust="spacingAndGlyphs" >1.2</text>
<text x="52.2" y="494.8" font-size="18" text-anchor="end" fill="#2a2a2a" textLength="26.5" lengthAdjust="spacingAndGlyphs" >1.8</text>
<text x="52.2" y="458.5" font-size="18" text-anchor="end" fill="#2a2a2a" textLength="26.5" lengthAdjust="spacingAndGlyphs" >2.4</text>
<text x="52.2" y="422.3" font-size="18" text-anchor="end" fill="#2a2a2a" textLength="26.5" lengthAdjust="spacingAndGlyphs" >3.0</text>
<text x="52.2" y="386" font-size="18" text-anchor="end" fill="#2a2a2a" textLength="26.5" lengthAdjust="spacingAndGlyphs" >3.6</text>
<text x="52.2" y="349.8" font-size="18" text-anchor="end" fill="#2a2a2a" textLength="26.5" lengthAdjust="spacingAndGlyphs" >4.2</text>
<text x="56.5" y="565.5" font-size="18" text-anchor="middle" fill="#2a2a2a" textLength="10.2" lengthAdjust="spacingAndGlyphs" >0</text>
<text x="160.5" y="565.5" font-size="18" text-anchor="middle" fill="#2a2a2a" textLength="20.4" lengthAdjust="spacingAndGlyphs" >50</text>
<text x="264.5" y="565.5" font-size="18" text-anchor="middle" fill="#2a2a2a" textLength="30.6" lengthAdjust="spacingAndGlyphs" >100</text>
<text x="368.5" y="565.5" font-size="18" text-anchor="middle" fill="#2a2a2a" textLength="30.6" lengthAdjust="spacingAndGlyphs" >150</text>
<text x="126.3" y="583.8" font-size="19.2" text-anchor="start" fill="#2a2a2a" textLength="218.7" lengthAdjust="spacingAndGlyphs" >Specific capacity (mAh/g)</text>
<text x="19" y="417" font-size="19.2" text-anchor="middle" fill="#2a2a2a" textLength="199" lengthAdjust="spacingAndGlyphs" transform="rotate(-90 19 417)">Voltage (V vs. Na<tspan font-size="11" dy="-7">+</tspan><tspan dy="7">/Na)</tspan></text>
<text x="64.8" y="345.2" font-size="34" text-anchor="start" fill="#2a2a2a" >d</text>
<text x="160.3" y="533" font-size="23" text-anchor="start" fill="#2a2a2a" textLength="174.5" lengthAdjust="spacingAndGlyphs" >Water-processed</text>
<line x1="101.7" y1="488.1" x2="129.4" y2="488.1" stroke="#4b46e6" stroke-width="2.8"/>
<text x="132" y="492.1" font-size="11.2" text-anchor="start" fill="#2a2a2a" >1</text>
<line x1="101.7" y1="502.6" x2="129.4" y2="502.6" stroke="#84e84e" stroke-width="2.8"/>
<text x="132" y="506.6" font-size="11.2" text-anchor="start" fill="#2a2a2a" >2</text>
<line x1="101.7" y1="517.4" x2="129.4" y2="517.4" stroke="#f27a4e" stroke-width="2.8"/>
<text x="132" y="521.4" font-size="11.2" text-anchor="start" fill="#2a2a2a" >5</text>
<line x1="101.7" y1="531.9" x2="129.4" y2="531.9" stroke="#c9403a" stroke-width="2.8"/>
<text x="132" y="535.9" font-size="11.2" text-anchor="start" fill="#2a2a2a" >10</text>
<rect x="520.4" y="314" width="329.6" height="229" fill="none" stroke="#8a8a8a" stroke-width="2.0"/>
<path d="M557.5,440 C560.4,439.4 567.9,437.1 575,436.3 C582.1,435.5 592.7,435.6 600,435 C607.3,434.4 614.2,433.8 618.8,432.5 C623.4,431.2 625.2,430.4 627.5,427.5 C629.8,424.6 630.2,423.1 632.8,415.2 C635.3,407.3 640.1,389.5 642.8,380.1 C645.5,370.7 646.8,360.8 649.1,358.8 C651.4,356.8 654.2,361.7 656.6,368 C659,374.3 660.9,388.6 663.4,396.7 C665.9,404.8 669,411.8 671.8,416.8 C674.6,421.8 676.9,424.3 680.2,426.8 C683.6,429.3 688.1,431.1 691.9,431.8 C695.7,432.5 699.9,431.6 703,431 C706.1,430.4 707.4,432.8 710.3,428.5 C713.1,424.2 717.6,411.9 720.1,405.3 C722.6,398.7 723,390.7 725.1,389 C727.2,387.3 730.1,394.5 732.6,395.3 C735.1,396.1 737.7,391.5 740.2,394 C742.7,396.5 745.6,409.2 747.7,410.3 C749.8,411.4 749.8,401.4 752.7,400.3 C755.6,399.2 761.2,405.1 765.2,404 C769.2,402.9 773.6,392.5 776.5,394 C779.4,395.5 780.9,408.4 782.8,412.8 C784.7,417.2 786.1,420.7 787.8,420.3 C789.5,419.9 791.3,419.9 792.8,410.3 C794.3,400.7 795.5,378.2 796.6,362.7 C797.7,347.2 798.1,317.5 799.1,317.5 C800.1,317.5 801.8,348.9 802.8,362.7 C803.8,376.5 803.6,391.5 805.3,400.3 C807,409.1 811.4,412 812.9,415.3 C814.4,418.6 813.9,419.2 814.1,420" fill="none" stroke="#4a4af0" stroke-width="2.0" stroke-linejoin="round" stroke-linecap="round" />
<path d="M814.1,420 C813.6,421 812.9,423.5 810.9,426 C808.9,428.5 805.5,432.4 802,434.9 C798.5,437.4 793.6,437.8 790.1,440.8 C786.6,443.8 783.7,446.2 781.2,452.7 C778.7,459.1 776.8,469.8 775.2,479.5 C773.6,489.2 772.8,509.2 771.6,510.7 C770.4,512.2 768.8,493.5 767.8,488.4 C766.8,483.3 766.6,484.1 765.4,480 C764.2,475.9 762.6,467 760.4,463.6 C758.2,460.2 755.7,459.5 752.1,459.4 C748.5,459.3 742.9,461.7 738.7,462.8 C734.5,463.9 731.5,465.4 727,466.1 C722.5,466.8 715.4,466.9 711.9,466.9 C708.4,466.9 708.1,467.2 706.3,466.3 C704.5,465.4 702.5,464 701.3,461.3 C700,458.6 699.8,453.3 698.8,450 C697.8,446.7 696.9,443.8 695,441.3 C693.1,438.8 690.8,436.5 687.5,435 C684.2,433.5 681.2,433.1 675,432.5 C668.8,431.9 654.2,431.5 650,431.3" fill="none" stroke="#4a4af0" stroke-width="2.0" stroke-linejoin="round" stroke-linecap="round" />
<path d="M700,452 C697.9,450.8 691.7,447 687.5,445 C683.3,443 680.2,441.2 675,440 C669.8,438.8 662.1,437.5 656.3,437.5 C650.5,437.5 644.2,438.3 640,440 C635.8,441.7 634.8,443.5 631.3,447.5 C627.8,451.5 624,458.4 618.8,463.8 C613.6,469.2 604.4,478.6 600,480 C595.6,481.4 594.6,475.8 592.5,472.5 C590.4,469.2 590,464.4 587.5,460 C585,455.6 581.2,449.5 577.5,446.3 C573.8,443.1 568.3,441.8 565,440.6 C561.7,439.5 558.8,439.6 557.5,439.4" fill="none" stroke="#4a4af0" stroke-width="2.0" stroke-linejoin="round" stroke-linecap="round" />
<path d="M557.5,442 C560.4,441.1 567.9,437.5 575,436.3 C582.1,435.1 592.5,435.8 600,435 C607.5,434.2 615.3,433.2 620.3,431.5 C625.3,429.8 626.7,429.4 630,425 C633.3,420.6 637,411.7 640,405 C643,398.3 645.2,390.4 648,385 C650.8,379.6 653.9,372.6 656.6,372.6 C659.3,372.6 661.4,379.1 664,385 C666.6,390.9 669,401.5 672,408 C675,414.5 678.7,420.4 682,424 C685.3,427.6 688.2,428.6 692,429.5 C695.8,430.4 701.7,430.1 705,429.5 C708.3,428.9 710,428.6 712,426 C714,423.4 715.3,418.7 717,414 C718.7,409.3 720.3,402 722,398 C723.7,394 724,391.3 727,390 C730,388.7 736.2,389.3 740,390 C743.8,390.7 746.7,392.5 750,394 C753.3,395.5 757,398 760,399 C763,400 764.3,399.3 767.7,400 C771.1,400.7 776.9,402.7 780.3,403 C783.7,403.3 786,405 788,402 C790,399 790.2,393.7 792,385 C793.8,376.3 797,351.5 798.7,349.8 C800.4,348.1 800.9,366.6 802,375 C803.1,383.4 803.5,393.8 805.3,400 C807.1,406.2 811.4,408.6 812.9,412 C814.4,415.4 813.9,418.9 814.1,420.3" fill="none" stroke="#86e44a" stroke-width="2.0" stroke-linejoin="round" stroke-linecap="round" />
<path d="M814.1,420.3 C813.6,421.9 813.2,427.2 810.9,430 C808.5,432.8 803,435.1 800,437 C797,438.9 795.3,439.7 793.1,441.5 C790.9,443.3 789,444.6 787,448 C785,451.4 782.9,455.8 781,462 C779.1,468.2 777.2,478.2 775.5,485 C773.8,491.8 772.4,502.8 771,503 C769.6,503.2 769.2,491.5 767,486 C764.8,480.5 761.7,473.8 758,470 C754.3,466.2 748.1,463.8 745,463 C741.9,462.2 743.3,465.3 739.5,465 C735.7,464.7 727.7,462.7 722,461 C716.3,459.3 709.3,456.6 705.2,455 C701.1,453.4 700.5,453 697.5,451.3 C694.5,449.6 691.2,446.9 687.5,445 C683.8,443.1 680.2,441.2 675,440 C669.8,438.8 662.1,437.3 656.3,437.5 C650.5,437.7 644.2,439.1 640,441 C635.8,442.9 635.9,445.8 631.3,449 C626.7,452.2 617.7,457 612.5,460 C607.3,463 602.9,465.3 600,467 C597.1,468.7 597.5,470.8 595,470 C592.5,469.2 589.2,465.3 585,462 C580.8,458.7 574.6,453.2 570,450 C565.4,446.8 559.6,444.2 557.5,443" fill="none" stroke="#86e44a" stroke-width="2.0" stroke-linejoin="round" stroke-linecap="round" />
<path d="M557.5,443 C560.4,441.9 567.9,437.8 575,436.5 C582.1,435.2 592.5,435.8 600,435 C607.5,434.2 615,433.8 620.3,432 C625.6,430.2 627.8,428.8 632,424 C636.2,419.2 641.5,409 645.3,403 C649.1,397 652.3,391.6 655,388 C657.7,384.4 659.1,380.6 661.6,381.4 C664.1,382.2 667.3,387.9 670,393 C672.7,398.1 675.3,406.8 678,412 C680.7,417.2 683.2,421.2 686,424 C688.8,426.8 691.8,428.1 695,429 C698.2,429.9 702.2,429.8 705,429.5 C707.8,429.2 709.8,429.2 712,427 C714.2,424.8 716.2,420.5 718,416 C719.8,411.5 721.2,404.2 723,400 C724.8,395.8 725.7,392.8 729,391 C732.3,389.2 738.3,388.7 742.7,389.5 C747.1,390.3 751,394.1 755.2,396 C759.4,397.9 763.5,399.6 767.7,401 C771.9,402.4 776.9,404.2 780.3,404.5 C783.7,404.8 786,405.1 788,403 C790,400.9 790.6,398.4 792,392 C793.4,385.6 795.2,366.5 796.6,364.8 C798,363.1 798.8,376 800.3,382 C801.8,388 803.2,396 805.3,401 C807.4,406 811.4,408.8 812.9,412 C814.4,415.2 813.9,418.9 814.1,420.3" fill="none" stroke="#f47c50" stroke-width="2.0" stroke-linejoin="round" stroke-linecap="round" />
<path d="M814.1,420.3 C813.6,421.8 813.2,426.9 810.9,429.5 C808.5,432.1 803,434.2 800,436 C797,437.8 795.4,438.8 793.1,440.5 C790.8,442.2 788.2,443.1 786,446 C783.8,448.9 782,452.3 780,458 C778,463.7 775.8,473 774,480 C772.2,487 771,499.7 769.5,500 C768,500.3 767.2,487 765,482 C762.8,477 760.2,472.6 756,470 C751.8,467.4 745.2,467.9 739.5,466.5 C733.8,465.1 727.7,463.4 722,461.5 C716.3,459.6 709.3,456.9 705.2,455.2 C701.1,453.5 700.5,453 697.5,451.3 C694.5,449.6 691.2,446.9 687.5,445 C683.8,443.1 680.2,441.2 675,440 C669.8,438.8 662.1,437.4 656.3,437.5 C650.5,437.6 644.2,438.8 640,440.5 C635.8,442.2 635.9,444.8 631.3,447.5 C626.7,450.2 617.7,454.4 612.5,457 C607.3,459.6 603.3,461.5 600,463 C596.7,464.5 595.7,466.7 592.7,466 C589.7,465.3 586,461.6 582,459 C578,456.4 572.9,453 568.8,450.5 C564.7,448 559.4,445.1 557.5,444" fill="none" stroke="#f47c50" stroke-width="2.0" stroke-linejoin="round" stroke-linecap="round" />
<path d="M557.5,444 C560.4,442.8 567.9,438.4 575,437 C582.1,435.6 592.5,436.2 600,435.5 C607.5,434.8 615,434.2 620.3,432.8 C625.6,431.4 627.8,430.8 632,427 C636.2,423.2 641.1,415.5 645.3,410.2 C649.5,404.9 653.2,398.8 657,395 C660.8,391.2 664.7,387.2 667.9,387.7 C671.1,388.2 673.5,393.4 676,398 C678.5,402.6 680.7,410.5 683,415 C685.3,419.5 687.7,422.7 690,425 C692.3,427.3 694.5,428.2 697,429 C699.5,429.8 702.5,429.8 705,429.5 C707.5,429.2 709.8,428.9 712,427 C714.2,425.1 716,422.2 718,418 C720,413.8 722,406.2 724,402 C726,397.8 727,394.8 730.1,392.8 C733.2,390.8 738.5,389.6 742.7,390.2 C746.9,390.8 751,394.6 755.2,396.5 C759.4,398.4 763.5,400 767.7,401.5 C771.9,403 776.9,404.9 780.3,405.3 C783.7,405.7 786,405.2 788,404 C790,402.8 790.6,402.8 792,398 C793.4,393.2 795.2,376.9 796.6,375.2 C798,373.5 798.8,383.1 800.3,387.7 C801.8,392.3 803.2,398.6 805.3,402.8 C807.4,407 811.4,409.9 812.9,412.8 C814.4,415.7 813.9,419.1 814.1,420.3" fill="none" stroke="#cf3424" stroke-width="2.0" stroke-linejoin="round" stroke-linecap="round" />
<path d="M814.1,420.3 C813.6,421.7 813.2,426.4 810.9,428.9 C808.5,431.3 803,433.3 800,435 C797,436.7 795.6,437.8 793.1,439.3 C790.6,440.8 787.4,441.4 785,444 C782.6,446.6 781.2,449.8 779,455 C776.8,460.2 773.9,468.2 772,475 C770.1,481.8 769.2,495.1 767.8,495.9 C766.3,496.6 765.5,484 763.3,479.5 C761.1,475 758.4,471.2 754.4,469.1 C750.4,467 744.9,468.2 739.5,467 C734.1,465.8 727.7,463.9 722,461.9 C716.3,459.9 709.3,457 705.2,455.2 C701.1,453.4 700.5,453 697.5,451.3 C694.5,449.6 691.2,446.9 687.5,445 C683.8,443.1 680.2,441.2 675,440 C669.8,438.8 662.1,437.5 656.3,437.5 C650.5,437.5 644.2,438.5 640,440 C635.8,441.5 635.9,443.8 631.3,446.3 C626.7,448.8 617.7,452.7 612.5,455 C607.3,457.3 603.5,458.6 600,460 C596.5,461.4 594.4,463.5 591.3,463.1 C588.2,462.7 585,459.7 581.3,457.5 C577.5,455.3 572.8,452.2 568.8,450 C564.8,447.8 559.4,445.3 557.5,444.4" fill="none" stroke="#cf3424" stroke-width="2.0" stroke-linejoin="round" stroke-linecap="round" />
<linearGradient id="g5" gradientUnits="userSpaceOnUse" x1="622.8" y1="0" x2="665.9" y2="0"><stop offset="0" stop-color="#f7d888"/><stop offset="0.35" stop-color="#f8d274"/><stop offset="0.55" stop-color="#d89e6c"/><stop offset="0.8" stop-color="#bb7862"/><stop offset="1" stop-color="#a86656"/></linearGradient>
<path d="M622.8,343.6 L655.4,343.6 L655.4,339.8 L665.9,348.8 L655.4,357.9 L655.4,354.1 L622.8,354.1Z" fill="url(#g5)" fill-opacity="0.95"/>
<linearGradient id="g6" gradientUnits="userSpaceOnUse" x1="623.4" y1="0" x2="580.6" y2="0"><stop offset="0" stop-color="#f7d888"/><stop offset="0.35" stop-color="#f8d274"/><stop offset="0.55" stop-color="#d89e6c"/><stop offset="0.8" stop-color="#bb7862"/><stop offset="1" stop-color="#a86656"/></linearGradient>
<path d="M623.4,485.3 L591.2,485.3 L591.2,481.1 L580.6,491 L591.2,500.9 L591.2,496.7 L623.4,496.7Z" fill="url(#g6)" fill-opacity="0.95"/>
<linearGradient id="g7" gradientUnits="userSpaceOnUse" x1="0" y1="321.3" x2="0" y2="363.9"><stop offset="0" stop-color="#f7d888"/><stop offset="0.35" stop-color="#f8d274"/><stop offset="0.55" stop-color="#d89e6c"/><stop offset="0.8" stop-color="#bb7862"/><stop offset="1" stop-color="#a86656"/></linearGradient>
<path d="M809.4,321.3 L809.4,352.6 L805.4,352.6 L815.4,363.9 L825.4,352.6 L821.4,352.6 L821.4,321.3Z" fill="url(#g7)" fill-opacity="0.95"/>
<linearGradient id="g8" gradientUnits="userSpaceOnUse" x1="0" y1="534.5" x2="0" y2="491.4"><stop offset="0" stop-color="#f7d888"/><stop offset="0.35" stop-color="#f8d274"/><stop offset="0.55" stop-color="#d89e6c"/><stop offset="0.8" stop-color="#bb7862"/><stop offset="1" stop-color="#a86656"/></linearGradient>
<path d="M742.6,534.5 L742.6,501.8 L737.8,501.8 L747.8,491.4 L757.8,501.8 L753,501.8 L753,534.5Z" fill="url(#g8)" fill-opacity="0.95"/>
<line x1="515.9" y1="527.9" x2="520.4" y2="527.9" stroke="#8a8a8a" stroke-width="1.5"/>
<line x1="515.9" y1="496.5" x2="520.4" y2="496.5" stroke="#8a8a8a" stroke-width="1.5"/>
<line x1="515.9" y1="465.1" x2="520.4" y2="465.1" stroke="#8a8a8a" stroke-width="1.5"/>
<line x1="515.9" y1="433.7" x2="520.4" y2="433.7" stroke="#8a8a8a" stroke-width="1.5"/>
<line x1="515.9" y1="402.3" x2="520.4" y2="402.3" stroke="#8a8a8a" stroke-width="1.5"/>
<line x1="515.9" y1="370.9" x2="520.4" y2="370.9" stroke="#8a8a8a" stroke-width="1.5"/>
<line x1="515.9" y1="339.5" x2="520.4" y2="339.5" stroke="#8a8a8a" stroke-width="1.5"/>
<line x1="517.9" y1="543.6" x2="520.4" y2="543.6" stroke="#8a8a8a" stroke-width="1.3"/>
<line x1="517.9" y1="512.2" x2="520.4" y2="512.2" stroke="#8a8a8a" stroke-width="1.3"/>
<line x1="517.9" y1="480.8" x2="520.4" y2="480.8" stroke="#8a8a8a" stroke-width="1.3"/>
<line x1="517.9" y1="449.4" x2="520.4" y2="449.4" stroke="#8a8a8a" stroke-width="1.3"/>
<line x1="517.9" y1="418" x2="520.4" y2="418" stroke="#8a8a8a" stroke-width="1.3"/>
<line x1="517.9" y1="386.6" x2="520.4" y2="386.6" stroke="#8a8a8a" stroke-width="1.3"/>
<line x1="517.9" y1="355.2" x2="520.4" y2="355.2" stroke="#8a8a8a" stroke-width="1.3"/>
<line x1="517.9" y1="323.8" x2="520.4" y2="323.8" stroke="#8a8a8a" stroke-width="1.3"/>
<line x1="527.8" y1="543" x2="527.8" y2="547" stroke="#8a8a8a" stroke-width="1.5"/>
<line x1="571.8" y1="543" x2="571.8" y2="547" stroke="#8a8a8a" stroke-width="1.5"/>
<line x1="615.9" y1="543" x2="615.9" y2="547" stroke="#8a8a8a" stroke-width="1.5"/>
<line x1="659.9" y1="543" x2="659.9" y2="547" stroke="#8a8a8a" stroke-width="1.5"/>
<line x1="704" y1="543" x2="704" y2="547" stroke="#8a8a8a" stroke-width="1.5"/>
<line x1="748" y1="543" x2="748" y2="547" stroke="#8a8a8a" stroke-width="1.5"/>
<line x1="792" y1="543" x2="792" y2="547" stroke="#8a8a8a" stroke-width="1.5"/>
<line x1="836.1" y1="543" x2="836.1" y2="547" stroke="#8a8a8a" stroke-width="1.5"/>
<line x1="549.8" y1="543" x2="549.8" y2="545.3" stroke="#8a8a8a" stroke-width="1.3"/>
<line x1="593.9" y1="543" x2="593.9" y2="545.3" stroke="#8a8a8a" stroke-width="1.3"/>
<line x1="637.9" y1="543" x2="637.9" y2="545.3" stroke="#8a8a8a" stroke-width="1.3"/>
<line x1="681.9" y1="543" x2="681.9" y2="545.3" stroke="#8a8a8a" stroke-width="1.3"/>
<line x1="726" y1="543" x2="726" y2="545.3" stroke="#8a8a8a" stroke-width="1.3"/>
<line x1="770" y1="543" x2="770" y2="545.3" stroke="#8a8a8a" stroke-width="1.3"/>
<line x1="814.1" y1="543" x2="814.1" y2="545.3" stroke="#8a8a8a" stroke-width="1.3"/>
<text x="512.8" y="533.4" font-size="16" text-anchor="end" fill="#2a2a2a" textLength="54" lengthAdjust="spacingAndGlyphs" >-0.0003</text>
<text x="512.8" y="502" font-size="16" text-anchor="end" fill="#2a2a2a" textLength="54" lengthAdjust="spacingAndGlyphs" >-0.0002</text>
<text x="512.8" y="470.6" font-size="16" text-anchor="end" fill="#2a2a2a" textLength="54" lengthAdjust="spacingAndGlyphs" >-0.0001</text>
<text x="512.8" y="439.2" font-size="16" text-anchor="end" fill="#2a2a2a" textLength="49" lengthAdjust="spacingAndGlyphs" >0.0000</text>
<text x="512.8" y="407.8" font-size="16" text-anchor="end" fill="#2a2a2a" textLength="49" lengthAdjust="spacingAndGlyphs" >0.0001</text>
<text x="512.8" y="376.4" font-size="16" text-anchor="end" fill="#2a2a2a" textLength="49" lengthAdjust="spacingAndGlyphs" >0.0002</text>
<text x="512.8" y="345" font-size="16" text-anchor="end" fill="#2a2a2a" textLength="49" lengthAdjust="spacingAndGlyphs" >0.0003</text>
<text x="527.8" y="567.3" font-size="18" text-anchor="middle" fill="#2a2a2a" textLength="25.5" lengthAdjust="spacingAndGlyphs" >0.6</text>
<text x="571.8" y="567.3" font-size="18" text-anchor="middle" fill="#2a2a2a" textLength="25.5" lengthAdjust="spacingAndGlyphs" >1.2</text>
<text x="615.9" y="567.3" font-size="18" text-anchor="middle" fill="#2a2a2a" textLength="25.5" lengthAdjust="spacingAndGlyphs" >1.8</text>
<text x="659.9" y="567.3" font-size="18" text-anchor="middle" fill="#2a2a2a" textLength="25.5" lengthAdjust="spacingAndGlyphs" >2.4</text>
<text x="704" y="567.3" font-size="18" text-anchor="middle" fill="#2a2a2a" textLength="25.5" lengthAdjust="spacingAndGlyphs" >3.0</text>
<text x="748" y="567.3" font-size="18" text-anchor="middle" fill="#2a2a2a" textLength="25.5" lengthAdjust="spacingAndGlyphs" >3.6</text>
<text x="792" y="567.3" font-size="18" text-anchor="middle" fill="#2a2a2a" textLength="25.5" lengthAdjust="spacingAndGlyphs" >4.2</text>
<text x="836.1" y="567.3" font-size="18" text-anchor="middle" fill="#2a2a2a" textLength="25.5" lengthAdjust="spacingAndGlyphs" >4.8</text>
<text x="587.9" y="587" font-size="19.2" text-anchor="start" fill="#2a2a2a" textLength="195.5" lengthAdjust="spacingAndGlyphs" >Voltage (V vs. Na<tspan font-size="11" dy="-7">+</tspan><tspan dy="7">/Na)</tspan></text>
<text x="452.5" y="424.2" font-size="19.2" text-anchor="middle" fill="#2a2a2a" textLength="97" lengthAdjust="spacingAndGlyphs" transform="rotate(-90 452.5 424.2)">Current (A)</text>
<text x="526.9" y="345.4" font-size="34.5" text-anchor="start" fill="#2a2a2a" >e</text>
<text x="663.8" y="337.3" font-size="23" text-anchor="start" fill="#2a2a2a" textLength="75.5" lengthAdjust="spacingAndGlyphs" >Pristine</text>
<rect x="795.9" y="475.3" width="41.5" height="62" fill="#fff" stroke="#aaa" stroke-width="1.2"/>
<line x1="797" y1="483.8" x2="825" y2="483.8" stroke="#4a4af0" stroke-width="2.8"/>
<text x="828" y="487.8" font-size="11.2" text-anchor="start" fill="#2a2a2a" >1</text>
<line x1="797" y1="498.4" x2="825" y2="498.4" stroke="#86e44a" stroke-width="2.8"/>
<text x="828" y="502.4" font-size="11.2" text-anchor="start" fill="#2a2a2a" >2</text>
<line x1="797" y1="513.3" x2="825" y2="513.3" stroke="#f47c50" stroke-width="2.8"/>
<text x="828" y="517.3" font-size="11.2" text-anchor="start" fill="#2a2a2a" >3</text>
<line x1="797" y1="527.9" x2="825" y2="527.9" stroke="#cf3424" stroke-width="2.8"/>
<text x="828" y="531.9" font-size="11.2" text-anchor="start" fill="#2a2a2a" >4</text>
<rect x="947.5" y="317" width="329.3" height="228" fill="none" stroke="#8a8a8a" stroke-width="2.0"/>
<path d="M1059.3,415.3 C1060,413.6 1061.6,409.1 1063.4,405.2 C1065.2,401.3 1067.8,396.5 1070,392 C1072.2,387.5 1074.8,380.8 1076.8,378 C1078.8,375.2 1080.1,375.4 1081.8,375.1 C1083.5,374.8 1085,374.9 1087,376 C1089,377.1 1091.3,378.1 1093.5,381.8 C1095.7,385.6 1097.7,392.1 1100.2,398.5 C1102.7,404.9 1105.5,414.9 1108.6,420.3 C1111.7,425.7 1115.4,429.5 1118.6,431.1 C1121.8,432.7 1124.4,431.6 1128,430 C1131.6,428.4 1135.3,425.8 1140.3,421.7 C1145.3,417.6 1152.4,411.9 1157.8,405.4 C1163.2,398.9 1168.3,387.4 1172.9,382.8 C1177.5,378.2 1180.7,378.6 1185.4,377.8 C1190.1,377.1 1196.5,378.4 1200.9,378.3 C1205.3,378.2 1208.8,378.3 1211.7,377.2 C1214.6,376.1 1216.1,372.1 1218.3,371.7 C1220.5,371.3 1222.8,375.7 1224.8,375 C1226.8,374.3 1228.6,369.8 1230.2,367.4 C1231.8,365 1233.3,361.3 1234.6,360.9 C1235.9,360.5 1236.8,362.3 1237.8,365.2 C1238.8,368.1 1239.9,373.6 1240.4,378.3 C1241,383 1241,391 1241.1,393.5" fill="none" stroke="#a050ee" stroke-width="2.0" stroke-linejoin="round" stroke-linecap="round" />
<path d="M1241.1,393.5 C1240.7,397.1 1239.8,409.8 1238.9,415.2 C1238,420.6 1237.3,422.5 1235.7,426.1 C1234.1,429.7 1232,433.4 1229.1,437 C1226.2,440.6 1221.9,443.5 1218.3,447.8 C1214.7,452.1 1210.7,457.6 1207.4,463 C1204.1,468.4 1201.9,474.8 1198.7,480 C1195.5,485.2 1191.6,493 1188.3,494.5 C1185,496 1184.6,489.8 1179.1,489 C1173.6,488.2 1162.2,489.6 1155.2,489.9 C1148.2,490.2 1140.8,490.2 1136.8,490.8 C1132.8,491.4 1133.4,493.1 1131.3,493.6 C1129.2,494.1 1126.1,495.5 1123.9,493.6 C1121.8,491.8 1120.2,487.1 1118.4,482.5 C1116.6,477.9 1115.1,471.2 1112.9,466 C1110.8,460.8 1109.3,454.3 1105.5,451.3 C1101.7,448.3 1095.2,447.9 1090,448 C1084.8,448.1 1078.7,450.7 1074,452 C1069.3,453.3 1064.9,454.5 1062,456 C1059.1,457.5 1059.3,457.3 1056.5,460.9 C1053.7,464.5 1049,472.8 1045.3,477.7 C1041.6,482.6 1037.1,487.7 1034.1,490.4 C1031,493.1 1029.3,495.2 1027,494 C1024.7,492.8 1023,487.9 1020,483.3 C1017,478.7 1013,470.6 1008.8,466.5 C1004.6,462.4 999,460.9 995,459 C991,457.1 984.9,456.8 984.9,455.3 C984.9,453.8 989.1,451.9 995,450 C1000.9,448.1 1011.7,445.7 1020,444 C1028.3,442.3 1038.7,442.3 1045,440 C1051.3,437.7 1055.8,431.7 1058,430" fill="none" stroke="#a050ee" stroke-width="2.0" stroke-linejoin="round" stroke-linecap="round" />
<path d="M983.6,456.1 C986.2,454.9 991.9,450.8 999.1,448.6 C1006.4,446.4 1019.7,444.1 1027.2,442.7 C1034.6,441.2 1039.6,441.3 1044,439.7 C1048.5,438.1 1050.8,436.9 1053.8,433.1 C1056.9,429.4 1059.7,424 1062.2,417.2 C1064.7,410.4 1066.6,401 1068.8,392.4 C1071.1,383.8 1073.6,371.6 1075.5,365.5 C1077.5,359.4 1078.6,355.3 1080.2,355.9 C1081.9,356.5 1083.7,364.1 1085.7,369.3 C1087.7,374.5 1090,380.6 1092.2,387.1 C1094.5,393.6 1096.4,402.1 1099,408.3 C1101.5,414.5 1104.3,420.3 1107.3,424.3 C1110.4,428.3 1114.1,431.2 1117.3,432.3 C1120.6,433.4 1123.5,432.6 1126.8,430.9 C1130,429.2 1133.2,427.3 1136.5,421.8 C1139.8,416.3 1143.6,405 1146.5,397.9 C1149.5,390.8 1150.7,381.9 1154,379.3 C1157.4,376.6 1161.6,380.6 1166.7,381.9 C1171.7,383.3 1178.3,386 1184.2,387.2 C1190,388.5 1197.7,388.3 1201.8,389.5 C1205.8,390.6 1206.3,392.1 1208.3,394 C1210.3,395.9 1212,402 1213.8,401 C1215.5,400.1 1217.5,392.7 1219.2,388.3 C1220.8,383.9 1222.1,375.7 1223.5,374.5 C1225,373.4 1226,379.1 1227.8,381.4 C1229.7,383.7 1232.8,386.4 1234.5,388.3 C1236.1,390.2 1236.9,391 1237.7,393 C1238.4,394.9 1238.6,398.7 1238.8,399.8" fill="none" stroke="#3eaef0" stroke-width="2.2" stroke-linejoin="round" stroke-linecap="round" />
<path d="M1240.8,399.8 C1240.7,402.1 1240.7,409.4 1240.3,413.6 C1240,417.8 1239.6,421.3 1238.5,425.2 C1237.5,429 1236.8,432.9 1234.2,436.7 C1231.7,440.6 1227,444.3 1223.3,448.2 C1219.7,452 1216.1,455.1 1212.5,459.7 C1208.8,464.3 1204.3,470.3 1201.7,475.8 C1199,481.4 1198.4,487.1 1196.3,492.8 C1194.2,498.5 1191.2,506.4 1189,510.3 C1186.9,514.2 1185.4,515.9 1183.5,516.2 C1181.7,516.6 1180.1,514.3 1178,512.3 C1175.8,510.3 1173.4,507.1 1170.7,504.5 C1167.9,501.9 1165.4,498.5 1161.5,496.7 C1157.5,494.9 1151.5,494.6 1146.8,493.8 C1142,492.9 1136.3,495.6 1133,491.9 C1129.6,488.1 1128.8,477.4 1126.5,471.4 C1124.2,465.4 1122.4,459.1 1119.2,455.8 C1115.9,452.5 1111.7,452.9 1107.2,451.7 C1102.6,450.5 1096.1,448.9 1091.7,448.7 C1087.2,448.5 1084.2,449.3 1080.8,450.5 C1077.3,451.7 1073.8,453 1070.8,455.8 C1067.8,458.6 1065.5,463.5 1062.8,467.5 C1060,471.5 1057.7,475.8 1054.5,479.9 C1051.2,483.9 1046.4,491.3 1043.2,491.9 C1040.1,492.4 1037.6,485.9 1035.8,483.4 C1033.9,480.8 1033.1,476.9 1032,476.5 C1031,476 1031.5,481.9 1029.2,480.7 C1026.8,479.6 1022.6,472.8 1018,469.6 C1013.3,466.4 1006.5,463.9 1001.1,461.6 C995.8,459.4 988.2,457 985.6,456.1" fill="none" stroke="#3eaef0" stroke-width="2.2" stroke-linejoin="round" stroke-linecap="round" />
<path d="M983.9,456 C986.5,454.7 992.1,450.7 999.4,448.5 C1006.6,446.3 1019.9,444.1 1027.4,442.7 C1034.9,441.2 1039.8,441.3 1044.3,439.7 C1048.8,438.1 1051.1,436.9 1054.1,433.2 C1057.1,429.5 1059.9,424.2 1062.4,417.5 C1064.9,410.8 1066.9,401.4 1069.1,393 C1071.3,384.6 1073.9,373 1075.8,367.1 C1077.7,361.3 1078.8,357.5 1080.5,358 C1082.2,358.5 1083.9,365.2 1085.9,370.1 C1087.9,375.1 1090.3,381.3 1092.5,387.7 C1094.7,394.2 1096.7,402.6 1099.2,408.7 C1101.7,414.8 1104.5,420.6 1107.6,424.5 C1110.7,428.5 1114.4,431.3 1117.6,432.4 C1120.8,433.5 1123.8,432.7 1127,431 C1130.2,429.3 1133.5,427.4 1136.8,422 C1140.1,416.6 1143.9,405.4 1146.8,398.4 C1149.7,391.4 1150.9,382.6 1154.3,380 C1157.7,377.3 1161.9,381.3 1166.9,382.6 C1171.9,383.9 1178.6,386.6 1184.4,387.8 C1190.2,389.1 1198,388.9 1202,390 C1206,391.2 1206.6,392.6 1208.6,394.5 C1210.6,396.5 1212.2,402.4 1214,401.5 C1215.8,400.5 1217.8,393.3 1219.4,388.9 C1221,384.5 1222.3,376.4 1223.8,375.3 C1225.2,374.1 1226.3,379.8 1228.1,382.1 C1229.9,384.3 1233.1,387 1234.7,388.9 C1236.3,390.8 1237.2,391.6 1237.9,393.5 C1238.6,395.4 1238.8,399.2 1239,400.3" fill="none" stroke="#5cdc48" stroke-width="2.2" stroke-linejoin="round" stroke-linecap="round" />
<path d="M1240.6,400.3 C1240.5,402.6 1240.6,409.8 1240.2,413.9 C1239.8,418.1 1239.4,421.6 1238.4,425.4 C1237.4,429.2 1236.6,433 1234.1,436.8 C1231.6,440.6 1226.8,444.3 1223.2,448.1 C1219.6,451.9 1215.9,455 1212.3,459.5 C1208.7,464.1 1204.2,470 1201.5,475.5 C1198.8,480.9 1198.3,486.5 1196.2,492.2 C1194.1,497.9 1191,505.7 1188.9,509.5 C1186.8,513.4 1185.2,515.1 1183.4,515.4 C1181.5,515.7 1179.9,513.4 1177.8,511.5 C1175.7,509.6 1173.2,506.3 1170.5,503.8 C1167.8,501.2 1165.3,497.9 1161.3,496.1 C1157.3,494.3 1151.3,494 1146.6,493.2 C1141.8,492.4 1136.2,495 1132.8,491.3 C1129.4,487.6 1128.6,477 1126.3,471.1 C1124,465.1 1122.2,458.9 1119,455.6 C1115.8,452.4 1111.6,452.7 1107,451.6 C1102.4,450.4 1095.9,448.8 1091.5,448.6 C1087.1,448.4 1084.1,449.2 1080.6,450.4 C1077.1,451.6 1073.6,452.9 1070.6,455.6 C1067.6,458.4 1065.3,463.2 1062.6,467.2 C1059.9,471.1 1057.5,475.4 1054.3,479.4 C1051,483.5 1047.3,491.5 1043.1,491.3 C1038.9,491 1033.2,481.9 1029,478 C1024.8,474 1022.5,470.6 1017.8,467.7 C1013.1,464.8 1006.4,462.3 1001,460.4 C995.6,458.4 988.1,456.7 985.5,456" fill="none" stroke="#5cdc48" stroke-width="2.2" stroke-linejoin="round" stroke-linecap="round" />
<path d="M984.1,455.8 C986.7,454.6 992.4,450.6 999.6,448.4 C1006.9,446.2 1020.2,444.1 1027.7,442.6 C1035.1,441.2 1040.1,441.3 1044.5,439.7 C1049,438.2 1051.3,437 1054.3,433.3 C1057.4,429.7 1060.2,424.4 1062.7,417.8 C1065.2,411.1 1067.1,401.6 1069.3,393.5 C1071.6,385.5 1074.1,374.8 1076,369.4 C1078,364 1079.1,360.7 1080.8,361 C1082.4,361.3 1084.2,366.4 1086.2,370.9 C1088.2,375.5 1090.5,382 1092.8,388.4 C1095,394.7 1096.9,403 1099.5,409.1 C1102,415.1 1104.8,420.8 1107.8,424.7 C1110.9,428.6 1114.6,431.4 1117.8,432.5 C1121.1,433.6 1124,432.8 1127.2,431.1 C1130.5,429.4 1133.8,427.6 1137,422.2 C1140.3,416.9 1144.1,405.8 1147,398.9 C1150,392 1151.2,383.3 1154.5,380.7 C1157.9,378.1 1162.1,382 1167.2,383.3 C1172.2,384.6 1178.8,387.2 1184.7,388.5 C1190.5,389.7 1198.2,389.5 1202.2,390.6 C1206.3,391.7 1206.8,393.2 1208.8,395.1 C1210.8,397 1212.5,402.9 1214.2,401.9 C1216,401 1218,393.8 1219.7,389.5 C1221.3,385.2 1222.6,377.1 1224,376 C1225.5,374.9 1226.5,380.5 1228.3,382.8 C1230.2,385 1233.3,387.6 1235,389.5 C1236.6,391.4 1237.4,392.2 1238.2,394.1 C1238.9,395.9 1239.1,399.7 1239.2,400.8" fill="none" stroke="#f2ee30" stroke-width="2.2" stroke-linejoin="round" stroke-linecap="round" />
<path d="M1240.5,400.8 C1240.4,403 1240.4,410.1 1240,414.3 C1239.7,418.4 1239.3,421.8 1238.2,425.5 C1237.2,429.3 1236.5,433.1 1234,436.8 C1231.4,440.6 1226.7,444.3 1223,448 C1219.4,451.8 1215.8,454.8 1212.2,459.3 C1208.5,463.8 1204,469.7 1201.4,475.1 C1198.7,480.5 1198.2,486 1196,491.6 C1193.9,497.3 1190.9,504.9 1188.8,508.7 C1186.6,512.6 1185.1,514.2 1183.2,514.5 C1181.4,514.9 1179.8,512.6 1177.7,510.7 C1175.5,508.8 1173.1,505.6 1170.4,503 C1167.6,500.5 1165.1,497.2 1161.2,495.5 C1157.2,493.7 1151.2,493.4 1146.5,492.6 C1141.7,491.8 1136,494.4 1132.7,490.7 C1129.3,487.1 1128.5,476.6 1126.2,470.7 C1123.9,464.8 1122.1,458.7 1118.9,455.5 C1115.6,452.3 1111.4,452.6 1106.9,451.4 C1102.3,450.3 1095.8,448.7 1091.4,448.5 C1087,448.4 1083.9,449.1 1080.5,450.3 C1077,451.5 1073.5,452.7 1070.5,455.5 C1067.5,458.2 1065.2,463 1062.5,466.9 C1059.7,470.8 1057.4,475 1054.2,479 C1050.9,483 1047.2,491 1043,490.7 C1038.7,490.5 1033.1,481.4 1028.9,477.6 C1024.6,473.7 1022.3,470.3 1017.7,467.4 C1013,464.5 1006.2,462.1 1000.9,460.1 C995.5,458.2 987.9,456.5 985.4,455.8" fill="none" stroke="#f2ee30" stroke-width="2.2" stroke-linejoin="round" stroke-linecap="round" />
<path d="M984.4,455.6 C987,454.4 992.6,450.5 999.9,448.4 C1007.1,446.2 1020.4,444.1 1027.9,442.6 C1035.4,441.2 1040.3,441.3 1044.8,439.8 C1049.2,438.2 1051.6,437 1054.6,433.4 C1057.6,429.8 1060.4,424.6 1062.9,418.1 C1065.4,411.5 1067.4,401.9 1069.6,394.1 C1071.8,386.2 1074.4,376.2 1076.3,371 C1078.2,365.8 1079.3,362.9 1081,363 C1082.7,363.1 1084.4,367.4 1086.4,371.8 C1088.4,376.1 1090.8,382.7 1093,389 C1095.2,395.2 1097.2,403.5 1099.7,409.4 C1102.2,415.4 1105,421.1 1108.1,424.9 C1111.2,428.8 1114.9,431.5 1118.1,432.6 C1121.3,433.6 1124.3,432.9 1127.5,431.3 C1130.7,429.6 1134,427.8 1137.3,422.5 C1140.6,417.1 1144.4,406.3 1147.3,399.4 C1150.2,392.6 1151.4,384 1154.8,381.4 C1158.2,378.8 1162.4,382.7 1167.4,384 C1172.4,385.2 1179.1,387.9 1184.9,389.1 C1190.8,390.3 1198.5,390.1 1202.5,391.2 C1206.5,392.3 1207.1,393.8 1209.1,395.6 C1211.1,397.5 1212.7,403.3 1214.5,402.4 C1216.3,401.5 1218.3,394.4 1219.9,390.1 C1221.5,385.8 1222.8,377.9 1224.3,376.8 C1225.8,375.7 1226.8,381.2 1228.6,383.4 C1230.4,385.7 1233.6,388.2 1235.2,390.1 C1236.8,392 1237.7,392.7 1238.4,394.6 C1239.1,396.5 1239.3,400.1 1239.5,401.3" fill="none" stroke="#f27850" stroke-width="2.2" stroke-linejoin="round" stroke-linecap="round" />
<path d="M1240.3,401.3 C1240.2,403.5 1240.3,410.5 1239.9,414.6 C1239.5,418.6 1239.1,422 1238.1,425.7 C1237.1,429.5 1236.3,433.2 1233.8,436.9 C1231.3,440.6 1226.5,444.2 1222.9,448 C1219.3,451.7 1215.6,454.7 1212,459.1 C1208.4,463.6 1203.9,469.4 1201.2,474.7 C1198.5,480 1198,485.5 1195.9,491.1 C1193.8,496.6 1190.7,504.2 1188.6,508 C1186.5,511.7 1184.9,513.4 1183.1,513.7 C1181.2,514 1179.7,511.8 1177.5,509.9 C1175.3,508 1173,504.8 1170.2,502.3 C1167.5,499.8 1165,496.6 1161,494.9 C1157,493.1 1151,492.8 1146.3,492 C1141.5,491.2 1135.9,493.7 1132.5,490.1 C1129.1,486.5 1128.3,476.2 1126,470.4 C1123.7,464.6 1121.9,458.5 1118.7,455.3 C1115.5,452.1 1111.3,452.5 1106.7,451.3 C1102.1,450.2 1095.6,448.7 1091.2,448.5 C1086.8,448.3 1083.8,449.1 1080.3,450.2 C1076.8,451.3 1073.3,452.6 1070.3,455.3 C1067.3,458.1 1065,462.7 1062.3,466.6 C1059.6,470.5 1057.2,474.6 1054,478.6 C1050.8,482.5 1047,490.4 1042.8,490.1 C1038.6,489.9 1032.9,481 1028.7,477.1 C1024.5,473.3 1022.2,470 1017.5,467.1 C1012.8,464.2 1006.1,461.8 1000.7,459.9 C995.3,458 987.8,456.3 985.2,455.6" fill="none" stroke="#f27850" stroke-width="2.2" stroke-linejoin="round" stroke-linecap="round" />
<path d="M984.6,455.5 C987.2,454.3 992.9,450.4 1000.1,448.3 C1007.4,446.1 1020.7,444 1028.2,442.6 C1035.6,441.2 1040.6,441.3 1045,439.8 C1049.5,438.3 1051.8,437.1 1054.8,433.5 C1057.9,429.9 1060.7,424.8 1063.2,418.3 C1065.7,411.8 1067.6,402.2 1069.8,394.6 C1072.1,387.1 1074.6,378 1076.5,373.2 C1078.5,368.4 1079.6,366 1081.2,365.9 C1082.9,365.8 1084.7,368.6 1086.7,372.6 C1088.7,376.5 1091,383.4 1093.2,389.6 C1095.5,395.8 1097.4,403.9 1100,409.8 C1102.5,415.7 1105.3,421.3 1108.3,425.1 C1111.4,428.9 1115.1,431.6 1118.3,432.7 C1121.6,433.7 1124.5,433 1127.8,431.4 C1131,429.7 1134.2,427.9 1137.5,422.7 C1140.8,417.4 1144.6,406.7 1147.5,399.9 C1150.5,393.1 1151.7,384.6 1155,382.1 C1158.4,379.5 1162.6,383.4 1167.7,384.6 C1172.7,385.9 1179.3,388.5 1185.2,389.7 C1191,390.9 1198.7,390.7 1202.8,391.8 C1206.8,392.9 1207.3,394.3 1209.3,396.2 C1211.3,398 1213,403.8 1214.8,402.8 C1216.5,401.9 1218.5,394.9 1220.2,390.7 C1221.8,386.5 1223.1,378.6 1224.5,377.5 C1226,376.4 1227,381.9 1228.8,384.1 C1230.7,386.3 1233.8,388.9 1235.5,390.7 C1237.1,392.5 1237.9,393.3 1238.7,395.2 C1239.4,397 1239.6,400.6 1239.8,401.7" fill="none" stroke="#e0322a" stroke-width="2.2" stroke-linejoin="round" stroke-linecap="round" />
<path d="M1240.2,401.7 C1240.1,403.9 1240.1,410.9 1239.8,414.9 C1239.4,418.9 1239,422.2 1238,425.9 C1236.9,429.6 1236.2,433.3 1233.7,436.9 C1231.1,440.6 1226.4,444.2 1222.8,447.9 C1219.1,451.5 1215.5,454.5 1211.9,458.9 C1208.2,463.3 1203.7,469 1201.1,474.3 C1198.4,479.6 1197.8,485 1195.8,490.5 C1193.7,496 1190.6,503.5 1188.5,507.2 C1186.3,510.9 1184.8,512.5 1183,512.8 C1181.1,513.2 1179.5,511 1177.4,509.1 C1175.2,507.2 1172.8,504.1 1170.1,501.6 C1167.3,499.1 1164.8,495.9 1160.9,494.2 C1156.9,492.5 1150.9,492.2 1146.2,491.4 C1141.4,490.6 1135.7,493.1 1132.4,489.6 C1129,486 1128.2,475.8 1125.9,470 C1123.6,464.3 1121.8,458.3 1118.6,455.2 C1115.3,452 1111.1,452.3 1106.6,451.2 C1102,450.1 1095.5,448.6 1091.1,448.4 C1086.7,448.2 1083.6,449 1080.2,450.1 C1076.7,451.2 1073.2,452.5 1070.2,455.2 C1067.2,457.9 1064.9,462.5 1062.2,466.3 C1059.4,470.1 1057.1,474.3 1053.9,478.1 C1050.6,482 1046.9,489.8 1042.7,489.6 C1038.4,489.3 1032.8,480.5 1028.6,476.7 C1024.3,472.9 1022,469.6 1017.4,466.8 C1012.7,464 1005.9,461.6 1000.5,459.7 C995.2,457.8 987.6,456.2 985,455.5" fill="none" stroke="#e0322a" stroke-width="2.2" stroke-linejoin="round" stroke-linecap="round" />
<path d="M984.9,455.3 C987.5,454.1 993.1,450.3 1000.4,448.2 C1007.6,446.1 1020.9,444 1028.4,442.6 C1035.9,441.2 1040.8,441.3 1045.3,439.8 C1049.8,438.3 1052.1,437.1 1055.1,433.6 C1058.1,430.1 1060.9,425 1063.4,418.6 C1065.9,412.2 1067.9,402.7 1070.1,395.2 C1072.3,387.7 1074.9,378.3 1076.8,373.5 C1078.7,368.6 1079.8,366 1081.5,366 C1083.2,366 1084.9,369.4 1086.9,373.4 C1088.9,377.4 1091.3,384.1 1093.5,390.2 C1095.7,396.3 1097.7,404.3 1100.2,410.2 C1102.7,416.1 1105.5,421.5 1108.6,425.3 C1111.7,429.1 1115.4,431.8 1118.6,432.8 C1121.8,433.8 1124.8,433.1 1128,431.5 C1131.2,429.9 1134.5,428.1 1137.8,422.9 C1141.1,417.7 1144.9,407.1 1147.8,400.4 C1150.7,393.7 1151.9,385.3 1155.3,382.8 C1158.7,380.3 1162.9,384.1 1167.9,385.3 C1172.9,386.6 1179.6,389.1 1185.4,390.3 C1191.2,391.5 1199,391.3 1203,392.4 C1207,393.5 1207.6,394.9 1209.6,396.7 C1211.6,398.5 1213.2,404.2 1215,403.3 C1216.8,402.4 1218.8,395.5 1220.4,391.3 C1222,387.1 1223.3,379.4 1224.8,378.3 C1226.2,377.2 1227.3,382.6 1229.1,384.8 C1230.9,387 1234.1,389.5 1235.7,391.3 C1237.3,393.1 1238.2,393.9 1238.9,395.7 C1239.6,397.5 1239.8,401.1 1240,402.2" fill="none" stroke="#a52020" stroke-width="2.2" stroke-linejoin="round" stroke-linecap="round" />
<path d="M1240,402.2 C1239.9,404.4 1240,411.2 1239.6,415.2 C1239.2,419.2 1238.8,422.5 1237.8,426.1 C1236.8,429.7 1236,433.4 1233.5,437 C1231,440.6 1226.2,444.2 1222.6,447.8 C1219,451.4 1215.3,454.4 1211.7,458.7 C1208.1,463 1203.6,468.7 1200.9,473.9 C1198.2,479.1 1197.7,484.5 1195.6,489.9 C1193.5,495.3 1190.4,502.7 1188.3,506.4 C1186.2,510.1 1184.6,511.7 1182.8,512 C1181,512.3 1179.3,510.2 1177.2,508.3 C1175.1,506.4 1172.7,503.3 1169.9,500.9 C1167.2,498.4 1164.7,495.3 1160.7,493.6 C1156.7,491.9 1150.8,491.6 1146,490.8 C1141.2,490 1135.6,492.5 1132.2,489 C1128.8,485.5 1128,475.4 1125.7,469.7 C1123.4,464 1121.6,458.1 1118.4,455 C1115.2,451.9 1111,452.2 1106.4,451.1 C1101.8,450 1095.3,448.5 1090.9,448.3 C1086.5,448.1 1083.5,448.9 1080,450 C1076.5,451.1 1073,452.3 1070,455 C1067,457.7 1064.7,462.2 1062,466 C1059.3,469.8 1057,473.9 1053.7,477.7 C1050.5,481.5 1046.7,489.2 1042.5,489 C1038.3,488.8 1032.6,480.1 1028.4,476.3 C1024.2,472.6 1021.9,469.3 1017.2,466.5 C1012.5,463.7 1005.8,461.4 1000.4,459.5 C995,457.6 987.5,456 984.9,455.3" fill="none" stroke="#a52020" stroke-width="2.2" stroke-linejoin="round" stroke-linecap="round" />
<line x1="943" y1="525.1" x2="947.5" y2="525.1" stroke="#8a8a8a" stroke-width="1.5"/>
<line x1="943" y1="483.3" x2="947.5" y2="483.3" stroke="#8a8a8a" stroke-width="1.5"/>
<line x1="943" y1="441.5" x2="947.5" y2="441.5" stroke="#8a8a8a" stroke-width="1.5"/>
<line x1="943" y1="399.7" x2="947.5" y2="399.7" stroke="#8a8a8a" stroke-width="1.5"/>
<line x1="943" y1="357.9" x2="947.5" y2="357.9" stroke="#8a8a8a" stroke-width="1.5"/>
<line x1="943" y1="316.1" x2="947.5" y2="316.1" stroke="#8a8a8a" stroke-width="1.5"/>
<line x1="945" y1="546" x2="947.5" y2="546" stroke="#8a8a8a" stroke-width="1.3"/>
<line x1="945" y1="504.2" x2="947.5" y2="504.2" stroke="#8a8a8a" stroke-width="1.3"/>
<line x1="945" y1="462.4" x2="947.5" y2="462.4" stroke="#8a8a8a" stroke-width="1.3"/>
<line x1="945" y1="420.6" x2="947.5" y2="420.6" stroke="#8a8a8a" stroke-width="1.3"/>
<line x1="945" y1="378.8" x2="947.5" y2="378.8" stroke="#8a8a8a" stroke-width="1.3"/>
<line x1="945" y1="337" x2="947.5" y2="337" stroke="#8a8a8a" stroke-width="1.3"/>
<line x1="955" y1="545" x2="955" y2="549" stroke="#8a8a8a" stroke-width="1.5"/>
<line x1="998.8" y1="545" x2="998.8" y2="549" stroke="#8a8a8a" stroke-width="1.5"/>
<line x1="1042.6" y1="545" x2="1042.6" y2="549" stroke="#8a8a8a" stroke-width="1.5"/>
<line x1="1086.4" y1="545" x2="1086.4" y2="549" stroke="#8a8a8a" stroke-width="1.5"/>
<line x1="1130.2" y1="545" x2="1130.2" y2="549" stroke="#8a8a8a" stroke-width="1.5"/>
<line x1="1174" y1="545" x2="1174" y2="549" stroke="#8a8a8a" stroke-width="1.5"/>
<line x1="1217.8" y1="545" x2="1217.8" y2="549" stroke="#8a8a8a" stroke-width="1.5"/>
<line x1="1261.6" y1="545" x2="1261.6" y2="549" stroke="#8a8a8a" stroke-width="1.5"/>
<line x1="976.9" y1="545" x2="976.9" y2="547.3" stroke="#8a8a8a" stroke-width="1.3"/>
<line x1="1020.7" y1="545" x2="1020.7" y2="547.3" stroke="#8a8a8a" stroke-width="1.3"/>
<line x1="1064.5" y1="545" x2="1064.5" y2="547.3" stroke="#8a8a8a" stroke-width="1.3"/>
<line x1="1108.3" y1="545" x2="1108.3" y2="547.3" stroke="#8a8a8a" stroke-width="1.3"/>
<line x1="1152.1" y1="545" x2="1152.1" y2="547.3" stroke="#8a8a8a" stroke-width="1.3"/>
<line x1="1195.9" y1="545" x2="1195.9" y2="547.3" stroke="#8a8a8a" stroke-width="1.3"/>
<line x1="1239.7" y1="545" x2="1239.7" y2="547.3" stroke="#8a8a8a" stroke-width="1.3"/>
<text x="940.4" y="530.6" font-size="16" text-anchor="end" fill="#2a2a2a" textLength="54" lengthAdjust="spacingAndGlyphs" >-0.0002</text>
<text x="940.4" y="488.8" font-size="16" text-anchor="end" fill="#2a2a2a" textLength="54" lengthAdjust="spacingAndGlyphs" >-0.0001</text>
<text x="940.4" y="447" font-size="16" text-anchor="end" fill="#2a2a2a" textLength="49" lengthAdjust="spacingAndGlyphs" >0.0000</text>
<text x="940.4" y="405.2" font-size="16" text-anchor="end" fill="#2a2a2a" textLength="49" lengthAdjust="spacingAndGlyphs" >0.0001</text>
<text x="940.4" y="363.4" font-size="16" text-anchor="end" fill="#2a2a2a" textLength="49" lengthAdjust="spacingAndGlyphs" >0.0002</text>
<text x="940.4" y="321.6" font-size="16" text-anchor="end" fill="#2a2a2a" textLength="49" lengthAdjust="spacingAndGlyphs" >0.0003</text>
<text x="955" y="569.2" font-size="18" text-anchor="middle" fill="#2a2a2a" textLength="25.5" lengthAdjust="spacingAndGlyphs" >0.6</text>
<text x="998.8" y="569.2" font-size="18" text-anchor="middle" fill="#2a2a2a" textLength="25.5" lengthAdjust="spacingAndGlyphs" >1.2</text>
<text x="1042.6" y="569.2" font-size="18" text-anchor="middle" fill="#2a2a2a" textLength="25.5" lengthAdjust="spacingAndGlyphs" >1.8</text>
<text x="1086.4" y="569.2" font-size="18" text-anchor="middle" fill="#2a2a2a" textLength="25.5" lengthAdjust="spacingAndGlyphs" >2.4</text>
<text x="1130.2" y="569.2" font-size="18" text-anchor="middle" fill="#2a2a2a" textLength="25.5" lengthAdjust="spacingAndGlyphs" >3.0</text>
<text x="1174" y="569.2" font-size="18" text-anchor="middle" fill="#2a2a2a" textLength="25.5" lengthAdjust="spacingAndGlyphs" >3.6</text>
<text x="1217.8" y="569.2" font-size="18" text-anchor="middle" fill="#2a2a2a" textLength="25.5" lengthAdjust="spacingAndGlyphs" >4.2</text>
<text x="1261.6" y="569.2" font-size="18" text-anchor="middle" fill="#2a2a2a" textLength="25.5" lengthAdjust="spacingAndGlyphs" >4.8</text>
<text x="1015.7" y="591.8" font-size="19.2" text-anchor="start" fill="#2a2a2a" textLength="194" lengthAdjust="spacingAndGlyphs" >Voltage (V vs. Na<tspan font-size="11" dy="-7">+</tspan><tspan dy="7">/Na)</tspan></text>
<text x="880.5" y="425.7" font-size="19.2" text-anchor="middle" fill="#2a2a2a" textLength="97.5" lengthAdjust="spacingAndGlyphs" transform="rotate(-90 880.5 425.7)">Current (A)</text>
<text x="954.3" y="345.4" font-size="34" text-anchor="start" fill="#2a2a2a" >f</text>
<text x="1072" y="340.8" font-size="23" text-anchor="start" fill="#2a2a2a" textLength="174.3" lengthAdjust="spacingAndGlyphs" >Water-processed</text>
<line x1="1236.5" y1="446" x2="1262.9" y2="446" stroke="#a050ee" stroke-width="2.8"/>
<text x="1266.5" y="450" font-size="11.2" text-anchor="start" fill="#2a2a2a" >1</text>
<line x1="1236.5" y1="460.9" x2="1262.9" y2="460.9" stroke="#3eaef0" stroke-width="2.8"/>
<text x="1266.5" y="464.9" font-size="11.2" text-anchor="start" fill="#2a2a2a" >2</text>
<line x1="1236.5" y1="475.8" x2="1262.9" y2="475.8" stroke="#5cdc48" stroke-width="2.8"/>
<text x="1266.5" y="479.8" font-size="11.2" text-anchor="start" fill="#2a2a2a" >3</text>
<line x1="1236.5" y1="490.4" x2="1262.9" y2="490.4" stroke="#f2ee30" stroke-width="2.8"/>
<text x="1266.5" y="494.4" font-size="11.2" text-anchor="start" fill="#2a2a2a" >4</text>
<line x1="1236.5" y1="505.3" x2="1262.9" y2="505.3" stroke="#f27850" stroke-width="2.8"/>
<text x="1266.5" y="509.3" font-size="11.2" text-anchor="start" fill="#2a2a2a" >5</text>
<line x1="1236.5" y1="519.9" x2="1262.9" y2="519.9" stroke="#e0322a" stroke-width="2.8"/>
<text x="1266.5" y="523.9" font-size="11.2" text-anchor="start" fill="#2a2a2a" >6</text>
<line x1="1236.5" y1="534.5" x2="1262.9" y2="534.5" stroke="#a52020" stroke-width="2.8"/>
<text x="1266.5" y="538.5" font-size="11.2" text-anchor="start" fill="#2a2a2a" >7</text>
</svg></body></html>
